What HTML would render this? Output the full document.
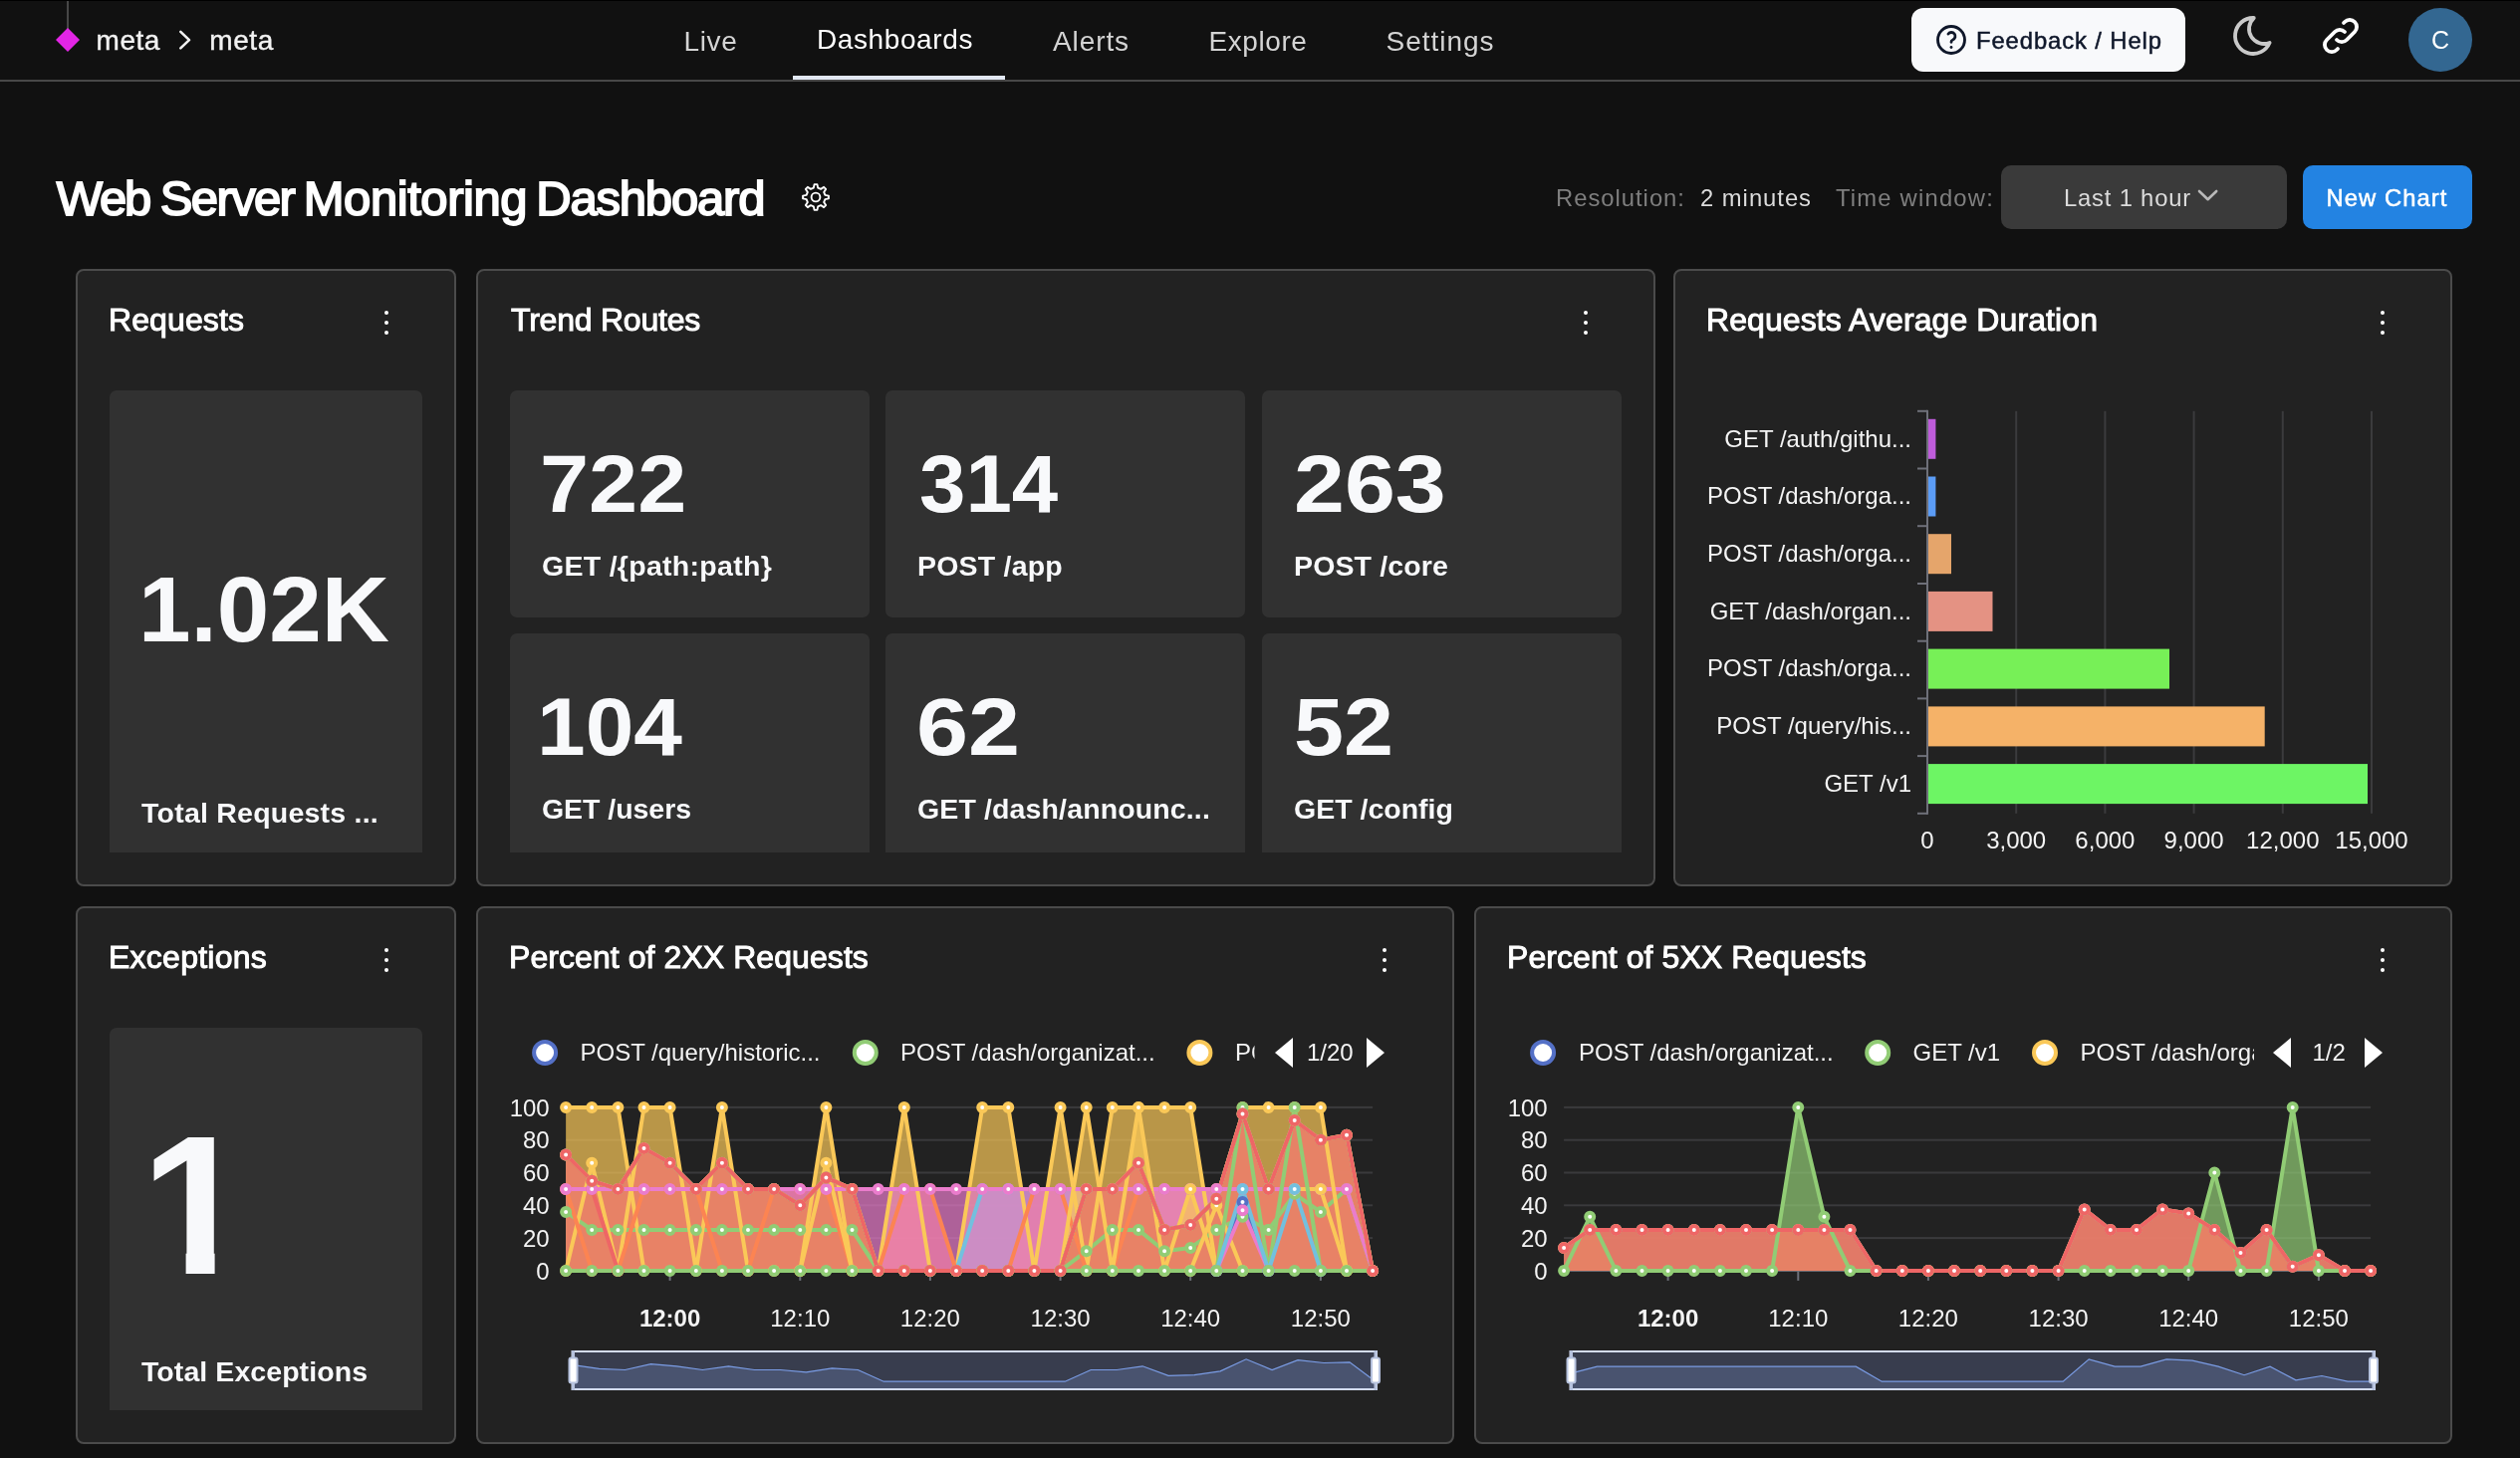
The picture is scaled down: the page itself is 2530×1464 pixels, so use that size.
<!DOCTYPE html>
<html lang="en"><head><meta charset="utf-8"><title>Web Server Monitoring Dashboard</title>
<style>
html,body{margin:0;padding:0;background:#111111;}
body{width:2530px;height:1464px;position:relative;overflow:hidden;font-family:"Liberation Sans", Arial, Helvetica, sans-serif;}
#root{position:absolute;left:0;top:0;width:2530px;height:1464px;will-change:transform;}
.t{position:absolute;white-space:nowrap;}
.b{position:absolute;}
svg text{white-space:pre;}
</style></head>
<body>
<div id="root">
<div class="b" style="left:0;top:0;width:2530px;height:1px;background:#000"></div>
<div class="b" style="left:0;top:80px;width:2530px;height:2px;background:#484848"></div>
<div class="b" style="left:67px;top:1px;width:2px;height:29px;background:#474747"></div>
<svg class="b" style="left:54px;top:26px" width="28" height="28" viewBox="0 0 28 28"><path d="M14 2 L26 14 L14 26 L2 14 Z" fill="#e325e6"/></svg>
<div class="t" style="left:96.5px;top:27.3px;font-size:28px;line-height:28px;color:#f2f2f2;letter-spacing:0.56px;-webkit-text-stroke:0.4px #f2f2f2;">meta</div>
<svg class="b" style="left:176px;top:30px" width="20" height="24" viewBox="0 0 20 24"><path d="M5.3 1.9 L14 10.15 L5.3 18.4" fill="none" stroke="#f2f2f2" stroke-width="2.6" stroke-linecap="round" stroke-linejoin="round"/></svg>
<div class="t" style="left:210.3px;top:27.3px;font-size:28px;line-height:28px;color:#f2f2f2;letter-spacing:0.56px;-webkit-text-stroke:0.4px #f2f2f2;">meta</div>
<div class="t" style="left:686.5px;top:28.3px;font-size:28px;line-height:28px;color:#d4d4d4;letter-spacing:0.66px;">Live</div>
<div class="t" style="left:820.0px;top:26.3px;font-size:28px;line-height:28px;color:#ffffff;letter-spacing:0.60px;">Dashboards</div>
<div class="t" style="left:1057.0px;top:28.3px;font-size:28px;line-height:28px;color:#d4d4d4;letter-spacing:0.90px;">Alerts</div>
<div class="t" style="left:1213.5px;top:28.3px;font-size:28px;line-height:28px;color:#d4d4d4;letter-spacing:0.58px;">Explore</div>
<div class="t" style="left:1391.5px;top:28.3px;font-size:28px;line-height:28px;color:#d4d4d4;letter-spacing:0.98px;">Settings</div>
<div class="b" style="left:796px;top:76px;width:213px;height:4px;background:#e2e8f4;border-radius:0px;"></div>
<div class="b" style="left:1919px;top:8px;width:275px;height:64px;background:#f8f9fb;border-radius:12px;"></div>
<svg class="b" style="left:1941px;top:21.5px" width="36" height="36" viewBox="0 0 24 24"><g fill="none" stroke="#0f172a" stroke-width="1.9" stroke-linecap="round" stroke-linejoin="round"><circle cx="12" cy="12" r="9"/><path d="M12 17l0 .01"/><path d="M12 13.5a1.5 1.5 0 0 1 1 -1.5a2.6 2.6 0 1 0 -3 -4"/></g></svg>
<div class="t" style="left:1984.0px;top:28.9px;font-size:23.8px;line-height:23.8px;color:#0f172a;letter-spacing:0.91px;-webkit-text-stroke:0.5px #0f172a;">Feedback / Help</div>
<svg class="b" style="left:2238px;top:12px" width="48" height="48" viewBox="0 0 24 24"><path d="M12 3c.132 0 .263 0 .393 0a7.5 7.5 0 0 0 7.92 12.446a9 9 0 1 1 -8.313 -12.454z" fill="none" stroke="#c9c9c9" stroke-width="1.9" stroke-linecap="round" stroke-linejoin="round"/></svg>
<svg class="b" style="left:2326px;top:12px" width="48" height="48" viewBox="0 0 24 24"><g fill="none" stroke="#ffffff" stroke-width="1.9" stroke-linecap="round" stroke-linejoin="round"><path d="M10 14a3.5 3.5 0 0 0 5 0l4 -4a3.5 3.5 0 0 0 -5 -5l-.5 .5"/><path d="M14 10a3.5 3.5 0 0 0 -5 0l-4 4a3.5 3.5 0 0 0 5 5l.5 -.5"/></g></svg>
<div class="b" style="left:2418px;top:8px;width:64px;height:64px;border-radius:50%;background:#336791"></div>
<div class="t" style="left:2450.0px;top:27.8px;font-size:25px;line-height:25px;color:#ffffff;transform:translateX(-50%);">C</div>
<div class="t" style="left:56px;top:175px;font-size:49px;line-height:49px;color:#fff;-webkit-text-stroke:1.9px #fff;width:730px;height:49px">
<span style="position:absolute;left:0.7px;top:0;letter-spacing:-2.12px">Web&nbsp;</span>
<span style="position:absolute;left:104.8px;top:0;letter-spacing:-1.64px">Server&nbsp;</span>
<span style="position:absolute;left:248.7px;top:0;letter-spacing:-0.43px">Monitoring&nbsp;</span>
<span style="position:absolute;left:482.2px;top:0;letter-spacing:-1.19px">Dashboard</span>
</div>
<svg class="b" style="left:805px;top:184px" width="28" height="28" viewBox="0 0 28 28"><path d="M11.83 4.65 L12.57 1.08 L15.43 1.08 L16.17 4.65 L19.08 5.85 L22.13 3.85 L24.15 5.87 L22.15 8.92 L23.35 11.83 L26.92 12.57 L26.92 15.43 L23.35 16.17 L22.15 19.08 L24.15 22.13 L22.13 24.15 L19.08 22.15 L16.17 23.35 L15.43 26.92 L12.57 26.92 L11.83 23.35 L8.92 22.15 L5.87 24.15 L3.85 22.13 L5.85 19.08 L4.65 16.17 L1.08 15.43 L1.08 12.57 L4.65 11.83 L5.85 8.92 L3.85 5.87 L5.87 3.85 L8.92 5.85 Z" fill="none" stroke="#fff" stroke-width="1.9" stroke-linejoin="round"/><circle cx="14" cy="14" r="4.4" fill="none" stroke="#fff" stroke-width="1.9"/></svg>
<div class="t" style="left:1562.0px;top:186.9px;font-size:23.8px;line-height:23.8px;color:#7f7f7f;letter-spacing:0.99px;">Resolution:</div>
<div class="t" style="left:1707.0px;top:186.9px;font-size:23.8px;line-height:23.8px;color:#dcdcdc;letter-spacing:0.98px;">2 minutes</div>
<div class="t" style="left:1843.0px;top:186.9px;font-size:23.8px;line-height:23.8px;color:#7f7f7f;letter-spacing:1.20px;">Time window:</div>
<div class="b" style="left:2009px;top:166px;width:287px;height:64px;background:#3a3a3a;border-radius:10px;"></div>
<div class="t" style="left:2072.0px;top:186.9px;font-size:23.8px;line-height:23.8px;color:#dcdcdc;letter-spacing:0.81px;">Last 1 hour</div>
<svg class="b" style="left:2204px;top:186px" width="26" height="20" viewBox="0 0 26 20"><path d="M4 6 L12.6 14.2 L21.2 6" fill="none" stroke="#b9b9b9" stroke-width="2.6" stroke-linecap="round" stroke-linejoin="round"/></svg>
<div class="b" style="left:2312px;top:166px;width:170px;height:64px;background:#2383e2;border-radius:10px;"></div>
<div class="t" style="left:2335.5px;top:186.9px;font-size:23.8px;line-height:23.8px;color:#ffffff;letter-spacing:1.06px;-webkit-text-stroke:0.5px #ffffff;">New Chart</div>
<div class="b" style="left:76px;top:270px;width:382px;height:620px;box-sizing:border-box;background:#222222;border:2px solid #4b4b4b;border-radius:8px"></div>
<div class="t" style="left:109.0px;top:304.9px;font-size:32px;line-height:32px;color:#ffffff;letter-spacing:0.10px;-webkit-text-stroke:1.0px #ffffff;">Requests</div>
<div class="b" style="left:385.6px;top:311.6px;width:4.8px;height:4.8px;border-radius:50%;background:#fff"></div>
<div class="b" style="left:385.6px;top:321.6px;width:4.8px;height:4.8px;border-radius:50%;background:#fff"></div>
<div class="b" style="left:385.6px;top:331.6px;width:4.8px;height:4.8px;border-radius:50%;background:#fff"></div>
<div class="b" style="left:110px;top:392px;width:314px;height:464px;background:#313131;border-radius:7px 7px 0 0"></div>
<div class="t" style="left:139.0px;top:564.9px;font-size:93.5px;line-height:93.5px;color:#f8f9fb;font-weight:700;transform:scaleX(1.0100);transform-origin:0 0;">1.02K</div>
<div class="t" style="left:142.0px;top:801.9px;font-size:28.5px;line-height:28.5px;color:#f8f9fb;font-weight:700;letter-spacing:0.23px;">Total Requests ...</div>
<div class="b" style="left:478px;top:270px;width:1184px;height:620px;box-sizing:border-box;background:#222222;border:2px solid #4b4b4b;border-radius:8px"></div>
<div class="t" style="left:513.0px;top:304.9px;font-size:32px;line-height:32px;color:#ffffff;letter-spacing:-0.22px;-webkit-text-stroke:1.0px #ffffff;">Trend Routes</div>
<div class="b" style="left:1589.6px;top:311.6px;width:4.8px;height:4.8px;border-radius:50%;background:#fff"></div>
<div class="b" style="left:1589.6px;top:321.6px;width:4.8px;height:4.8px;border-radius:50%;background:#fff"></div>
<div class="b" style="left:1589.6px;top:331.6px;width:4.8px;height:4.8px;border-radius:50%;background:#fff"></div>
<div class="b" style="left:512px;top:392px;width:361px;height:228px;background:#313131;border-radius:7px"></div>
<div class="t" style="left:542.0px;top:446.4px;font-size:81px;line-height:81px;color:#f8f9fb;font-weight:700;transform:scaleX(1.0899);transform-origin:0 0;">722</div>
<div class="t" style="left:544.0px;top:553.9px;font-size:28.5px;line-height:28.5px;color:#f8f9fb;font-weight:700;letter-spacing:0.29px;">GET /{path:path}</div>
<div class="b" style="left:889px;top:392px;width:361px;height:228px;background:#313131;border-radius:7px"></div>
<div class="t" style="left:922.6px;top:446.4px;font-size:81px;line-height:81px;color:#f8f9fb;font-weight:700;transform:scaleX(1.0300);transform-origin:0 0;">314</div>
<div class="t" style="left:921.0px;top:553.9px;font-size:28.5px;line-height:28.5px;color:#f8f9fb;font-weight:700;letter-spacing:0.21px;">POST /app</div>
<div class="b" style="left:1267px;top:392px;width:361px;height:228px;background:#313131;border-radius:7px"></div>
<div class="t" style="left:1298.5px;top:446.4px;font-size:81px;line-height:81px;color:#f8f9fb;font-weight:700;transform:scaleX(1.1299);transform-origin:0 0;">263</div>
<div class="t" style="left:1299.0px;top:553.9px;font-size:28.5px;line-height:28.5px;color:#f8f9fb;font-weight:700;letter-spacing:0.14px;">POST /core</div>
<div class="b" style="left:512px;top:636px;width:361px;height:220px;background:#313131;border-radius:7px 7px 0 0"></div>
<div class="t" style="left:539.3px;top:690.4px;font-size:81px;line-height:81px;color:#f8f9fb;font-weight:700;transform:scaleX(1.0803);transform-origin:0 0;">104</div>
<div class="t" style="left:544.0px;top:797.9px;font-size:28.5px;line-height:28.5px;color:#f8f9fb;font-weight:700;letter-spacing:-0.05px;">GET /users</div>
<div class="b" style="left:889px;top:636px;width:361px;height:220px;background:#313131;border-radius:7px 7px 0 0"></div>
<div class="t" style="left:920.0px;top:690.4px;font-size:81px;line-height:81px;color:#f8f9fb;font-weight:700;transform:scaleX(1.1554);transform-origin:0 0;">62</div>
<div class="t" style="left:921.0px;top:797.9px;font-size:28.5px;line-height:28.5px;color:#f8f9fb;font-weight:700;letter-spacing:0.13px;">GET /dash/announc...</div>
<div class="b" style="left:1267px;top:636px;width:361px;height:220px;background:#313131;border-radius:7px 7px 0 0"></div>
<div class="t" style="left:1298.8px;top:690.4px;font-size:81px;line-height:81px;color:#f8f9fb;font-weight:700;transform:scaleX(1.1099);transform-origin:0 0;">52</div>
<div class="t" style="left:1299.0px;top:797.9px;font-size:28.5px;line-height:28.5px;color:#f8f9fb;font-weight:700;">GET /config</div>
<div class="b" style="left:1680px;top:270px;width:782px;height:620px;box-sizing:border-box;background:#222222;border:2px solid #4b4b4b;border-radius:8px"></div>
<div class="t" style="left:1713.0px;top:304.9px;font-size:32px;line-height:32px;color:#ffffff;letter-spacing:0.09px;-webkit-text-stroke:1.0px #ffffff;">Requests Average Duration</div>
<div class="b" style="left:2389.6px;top:311.6px;width:4.8px;height:4.8px;border-radius:50%;background:#fff"></div>
<div class="b" style="left:2389.6px;top:321.6px;width:4.8px;height:4.8px;border-radius:50%;background:#fff"></div>
<div class="b" style="left:2389.6px;top:331.6px;width:4.8px;height:4.8px;border-radius:50%;background:#fff"></div>
<svg class="b" style="left:0;top:0" width="2530" height="1464" viewBox="0 0 2530 1464" font-family='"Liberation Sans", Arial, sans-serif' font-size="24"><rect x="2023.2" y="412.8" width="2" height="404.0" fill="#3b3b3d"/><rect x="2112.4" y="412.8" width="2" height="404.0" fill="#3b3b3d"/><rect x="2201.6" y="412.8" width="2" height="404.0" fill="#3b3b3d"/><rect x="2290.8" y="412.8" width="2" height="404.0" fill="#3b3b3d"/><rect x="2380.0" y="412.8" width="2" height="404.0" fill="#3b3b3d"/><rect x="1935.0" y="420.8" width="8.4" height="40" fill="#bf5cdb"/><text x="1919" y="448.6" text-anchor="end" fill="#f4f4f4">GET /auth/githu...</text><rect x="1935.0" y="478.5" width="8.4" height="40" fill="#5b9cf6"/><text x="1919" y="506.3" text-anchor="end" fill="#f4f4f4">POST /dash/orga...</text><rect x="1935.0" y="536.2" width="24" height="40" fill="#e5a56b"/><text x="1919" y="564.0" text-anchor="end" fill="#f4f4f4">POST /dash/orga...</text><rect x="1935.0" y="593.9" width="65.5" height="40" fill="#e49283"/><text x="1919" y="621.7" text-anchor="end" fill="#f4f4f4">GET /dash/organ...</text><rect x="1935.0" y="651.6" width="243" height="40" fill="#77f057"/><text x="1919" y="679.4" text-anchor="end" fill="#f4f4f4">POST /dash/orga...</text><rect x="1935.0" y="709.4" width="338.7" height="40" fill="#f5b268"/><text x="1919" y="737.2" text-anchor="end" fill="#f4f4f4">POST /query/his...</text><rect x="1935.0" y="767.1" width="442" height="40" fill="#6df564"/><text x="1919" y="794.9" text-anchor="end" fill="#f4f4f4">GET /v1</text><rect x="1934.0" y="411.8" width="2" height="406.0" fill="#6e7079"/><rect x="1925.0" y="411.8" width="10" height="2" fill="#6e7079"/><rect x="1925.0" y="469.5" width="10" height="2" fill="#6e7079"/><rect x="1925.0" y="527.2" width="10" height="2" fill="#6e7079"/><rect x="1925.0" y="585.0" width="10" height="2" fill="#6e7079"/><rect x="1925.0" y="642.7" width="10" height="2" fill="#6e7079"/><rect x="1925.0" y="700.4" width="10" height="2" fill="#6e7079"/><rect x="1925.0" y="758.1" width="10" height="2" fill="#6e7079"/><rect x="1925.0" y="815.8" width="10" height="2" fill="#6e7079"/><text x="1935.0" y="852" text-anchor="middle" fill="#f4f4f4">0</text><text x="2024.2" y="852" text-anchor="middle" fill="#f4f4f4">3,000</text><text x="2113.4" y="852" text-anchor="middle" fill="#f4f4f4">6,000</text><text x="2202.6" y="852" text-anchor="middle" fill="#f4f4f4">9,000</text><text x="2291.8" y="852" text-anchor="middle" fill="#f4f4f4">12,000</text><text x="2381.0" y="852" text-anchor="middle" fill="#f4f4f4">15,000</text></svg>
<div class="b" style="left:76px;top:910px;width:382px;height:540px;box-sizing:border-box;background:#222222;border:2px solid #4b4b4b;border-radius:8px"></div>
<div class="t" style="left:109.0px;top:944.9px;font-size:32px;line-height:32px;color:#ffffff;letter-spacing:0.25px;-webkit-text-stroke:1.0px #ffffff;">Exceptions</div>
<div class="b" style="left:385.6px;top:951.6px;width:4.8px;height:4.8px;border-radius:50%;background:#fff"></div>
<div class="b" style="left:385.6px;top:961.6px;width:4.8px;height:4.8px;border-radius:50%;background:#fff"></div>
<div class="b" style="left:385.6px;top:971.6px;width:4.8px;height:4.8px;border-radius:50%;background:#fff"></div>
<div class="b" style="left:110px;top:1032px;width:314px;height:384px;background:#313131;border-radius:7px 7px 0 0"></div>
<div class="t" style="left:141.0px;top:1111.2px;font-size:199px;line-height:199px;color:#f8f9fb;font-weight:700;width:140px;clip-path:polygon(0 0,140px 0,140px 146px,74.6px 146px,74.6px 199px,45.6px 199px,45.6px 146px,0 146px);">1</div>
<div class="t" style="left:142.0px;top:1362.9px;font-size:28.5px;line-height:28.5px;color:#f8f9fb;font-weight:700;letter-spacing:0.07px;">Total Exceptions</div>
<div class="b" style="left:478px;top:910px;width:982px;height:540px;box-sizing:border-box;background:#222222;border:2px solid #4b4b4b;border-radius:8px"></div>
<div class="t" style="left:511.0px;top:944.9px;font-size:32px;line-height:32px;color:#ffffff;letter-spacing:0.07px;-webkit-text-stroke:1.0px #ffffff;">Percent of 2XX Requests</div>
<div class="b" style="left:1387.6px;top:951.6px;width:4.8px;height:4.8px;border-radius:50%;background:#fff"></div>
<div class="b" style="left:1387.6px;top:961.6px;width:4.8px;height:4.8px;border-radius:50%;background:#fff"></div>
<div class="b" style="left:1387.6px;top:971.6px;width:4.8px;height:4.8px;border-radius:50%;background:#fff"></div>
<svg class="b" style="left:0;top:0" width="2530" height="1464" viewBox="0 0 2530 1464" font-family='"Liberation Sans", Arial, sans-serif' font-size="24"><rect x="568.1" y="1242.1" width="810.0" height="2" fill="#3a3a3c"/><rect x="568.1" y="1209.3" width="810.0" height="2" fill="#3a3a3c"/><rect x="568.1" y="1176.5" width="810.0" height="2" fill="#3a3a3c"/><rect x="568.1" y="1143.7" width="810.0" height="2" fill="#3a3a3c"/><rect x="568.1" y="1110.9" width="810.0" height="2" fill="#3a3a3c"/><rect x="568.1" y="1274.9" width="810.0" height="2" fill="#6e7079"/><rect x="671.6" y="1275.9" width="2" height="10" fill="#6e7079"/><text x="672.6" y="1332.1" text-anchor="middle" fill="#f4f4f4" font-weight="700">12:00</text><rect x="802.3" y="1275.9" width="2" height="10" fill="#6e7079"/><text x="803.3" y="1332.1" text-anchor="middle" fill="#f4f4f4">12:10</text><rect x="932.9" y="1275.9" width="2" height="10" fill="#6e7079"/><text x="933.9" y="1332.1" text-anchor="middle" fill="#f4f4f4">12:20</text><rect x="1063.6" y="1275.9" width="2" height="10" fill="#6e7079"/><text x="1064.6" y="1332.1" text-anchor="middle" fill="#f4f4f4">12:30</text><rect x="1194.2" y="1275.9" width="2" height="10" fill="#6e7079"/><text x="1195.2" y="1332.1" text-anchor="middle" fill="#f4f4f4">12:40</text><rect x="1324.9" y="1275.9" width="2" height="10" fill="#6e7079"/><text x="1325.9" y="1332.1" text-anchor="middle" fill="#f4f4f4">12:50</text><text x="551.7" y="1284.5" text-anchor="end" fill="#f4f4f4">0</text><text x="551.7" y="1251.7" text-anchor="end" fill="#f4f4f4">20</text><text x="551.7" y="1218.9" text-anchor="end" fill="#f4f4f4">40</text><text x="551.7" y="1186.1" text-anchor="end" fill="#f4f4f4">60</text><text x="551.7" y="1153.3" text-anchor="end" fill="#f4f4f4">80</text><text x="551.7" y="1120.5" text-anchor="end" fill="#f4f4f4">100</text><polygon points="568.1,1216.9 594.2,1234.9 620.4,1234.9 646.5,1234.9 672.6,1234.9 698.8,1234.9 724.9,1234.9 751.0,1234.9 777.1,1234.9 803.3,1234.9 829.4,1234.9 855.5,1234.9 881.7,1275.9 907.8,1275.9 933.9,1275.9 960.0,1275.9 986.2,1275.9 1012.3,1275.9 1038.4,1275.9 1064.6,1275.9 1090.7,1256.2 1116.8,1234.9 1143.0,1234.9 1169.1,1256.2 1195.2,1252.9 1221.3,1234.9 1247.5,1221.8 1273.6,1234.9 1299.7,1198.8 1325.9,1216.9 1352.0,1193.9 1378.1,1275.9 1378.1,1275.9 568.1,1275.9" fill="#91cc75" fill-opacity="0.7"/><polygon points="568.1,1111.9 594.2,1111.9 620.4,1111.9 646.5,1275.9 646.5,1275.9 568.1,1275.9" fill="#fac858" fill-opacity="0.7"/><polygon points="568.1,1275.9 594.2,1167.7 620.4,1275.9 646.5,1111.9 672.6,1111.9 698.8,1275.9 724.9,1111.9 751.0,1275.9 777.1,1275.9 803.3,1275.9 829.4,1111.9 855.5,1275.9 881.7,1275.9 907.8,1111.9 933.9,1275.9 960.0,1275.9 986.2,1111.9 1012.3,1111.9 1038.4,1275.9 1064.6,1111.9 1090.7,1275.9 1116.8,1111.9 1143.0,1111.9 1169.1,1111.9 1195.2,1111.9 1221.3,1275.9 1221.3,1275.9 568.1,1275.9" fill="#fac858" fill-opacity="0.7"/><polygon points="568.1,1193.9 594.2,1193.9 620.4,1275.9 620.4,1275.9 568.1,1275.9" fill="#ee6666" fill-opacity="0.7"/><polygon points="960.0,1275.9 986.2,1193.9 1012.3,1193.9 1038.4,1193.9 1064.6,1193.9 1090.7,1193.9 1116.8,1193.9 1143.0,1193.9 1169.1,1193.9 1195.2,1193.9 1221.3,1193.9 1247.5,1193.9 1273.6,1193.9 1299.7,1193.9 1325.9,1193.9 1352.0,1193.9 1378.1,1275.9 1378.1,1275.9 960.0,1275.9" fill="#73c0de" fill-opacity="0.7"/><polygon points="568.1,1193.9 594.2,1275.9 620.4,1275.9 646.5,1193.9 672.6,1193.9 698.8,1193.9 724.9,1275.9 751.0,1275.9 777.1,1193.9 803.3,1193.9 829.4,1193.9 855.5,1275.9 881.7,1275.9 907.8,1193.9 933.9,1193.9 960.0,1275.9 986.2,1275.9 1012.3,1275.9 1038.4,1193.9 1064.6,1193.9 1090.7,1275.9 1116.8,1275.9 1143.0,1193.9 1169.1,1193.9 1195.2,1193.9 1221.3,1193.9 1247.5,1193.9 1273.6,1193.9 1299.7,1193.9 1325.9,1193.9 1352.0,1193.9 1378.1,1275.9 1378.1,1275.9 568.1,1275.9" fill="#fc8452" fill-opacity="0.7"/><polygon points="568.1,1193.9 594.2,1193.9 620.4,1193.9 646.5,1193.9 672.6,1193.9 698.8,1193.9 724.9,1193.9 751.0,1193.9 777.1,1193.9 803.3,1193.9 829.4,1193.9 855.5,1193.9 881.7,1193.9 907.8,1193.9 933.9,1193.9 960.0,1193.9 986.2,1193.9 1012.3,1193.9 1038.4,1193.9 1064.6,1193.9 1090.7,1193.9 1116.8,1193.9 1143.0,1193.9 1169.1,1193.9 1195.2,1193.9 1221.3,1193.9 1247.5,1193.9 1273.6,1193.9 1299.7,1193.9 1325.9,1193.9 1352.0,1193.9 1378.1,1275.9 1378.1,1275.9 568.1,1275.9" fill="#ea7ccc" fill-opacity="0.7"/><polygon points="803.3,1275.9 829.4,1167.7 855.5,1275.9 855.5,1275.9 803.3,1275.9" fill="#fac858" fill-opacity="0.7"/><polygon points="1064.6,1275.9 1090.7,1111.9 1116.8,1275.9 1143.0,1111.9 1169.1,1275.9 1195.2,1193.9 1221.3,1275.9 1221.3,1275.9 1064.6,1275.9" fill="#fac858" fill-opacity="0.7"/><polygon points="1195.2,1275.9 1221.3,1210.3 1247.5,1275.9 1247.5,1275.9 1195.2,1275.9" fill="#fac858" fill-opacity="0.7"/><polygon points="1247.5,1111.9 1273.6,1111.9 1299.7,1111.9 1325.9,1111.9 1352.0,1275.9 1352.0,1275.9 1247.5,1275.9" fill="#fac858" fill-opacity="0.7"/><polygon points="1299.7,1193.9 1325.9,1193.9 1352.0,1275.9 1352.0,1275.9 1299.7,1275.9" fill="#fac858" fill-opacity="0.7"/><polygon points="1221.3,1275.9 1247.5,1111.9 1273.6,1275.9 1299.7,1111.9 1325.9,1275.9 1325.9,1275.9 1221.3,1275.9" fill="#91cc75" fill-opacity="0.7"/><polygon points="1221.3,1275.9 1247.5,1207.0 1273.6,1275.9 1273.6,1275.9 1221.3,1275.9" fill="#5470c6" fill-opacity="0.7"/><polygon points="1221.3,1275.9 1247.5,1215.2 1273.6,1275.9 1273.6,1275.9 1221.3,1275.9" fill="#ea7ccc" fill-opacity="0.7"/><polygon points="1221.3,1275.9 1247.5,1193.9 1273.6,1275.9 1299.7,1193.9 1325.9,1275.9 1325.9,1275.9 1221.3,1275.9" fill="#73c0de" fill-opacity="0.7"/><polygon points="568.1,1159.5 594.2,1185.7 620.4,1193.9 646.5,1152.9 672.6,1167.7 698.8,1193.9 724.9,1167.7 751.0,1193.9 777.1,1193.9 803.3,1210.3 829.4,1182.4 855.5,1193.9 881.7,1275.9 907.8,1275.9 933.9,1275.9 960.0,1275.9 986.2,1275.9 1012.3,1275.9 1038.4,1275.9 1064.6,1275.9 1090.7,1193.9 1116.8,1193.9 1143.0,1167.7 1169.1,1234.9 1195.2,1230.0 1221.3,1203.7 1247.5,1118.5 1273.6,1193.9 1299.7,1125.0 1325.9,1144.7 1352.0,1139.8 1378.1,1275.9 1378.1,1275.9 568.1,1275.9" fill="#5470c6" fill-opacity="0.7"/><polygon points="568.1,1159.5 594.2,1185.7 620.4,1193.9 646.5,1152.9 672.6,1167.7 698.8,1193.9 724.9,1167.7 751.0,1193.9 777.1,1193.9 803.3,1210.3 829.4,1182.4 855.5,1193.9 881.7,1275.9 907.8,1275.9 933.9,1275.9 960.0,1275.9 986.2,1275.9 1012.3,1275.9 1038.4,1275.9 1064.6,1275.9 1090.7,1193.9 1116.8,1193.9 1143.0,1167.7 1169.1,1234.9 1195.2,1230.0 1221.3,1203.7 1247.5,1118.5 1273.6,1193.9 1299.7,1125.0 1325.9,1144.7 1352.0,1139.8 1378.1,1275.9 1378.1,1275.9 568.1,1275.9" fill="#91cc75" fill-opacity="0.7"/><polygon points="568.1,1159.5 594.2,1185.7 620.4,1193.9 646.5,1152.9 672.6,1167.7 698.8,1193.9 724.9,1167.7 751.0,1193.9 777.1,1193.9 803.3,1210.3 829.4,1182.4 855.5,1193.9 881.7,1275.9 907.8,1275.9 933.9,1275.9 960.0,1275.9 986.2,1275.9 1012.3,1275.9 1038.4,1275.9 1064.6,1275.9 1090.7,1193.9 1116.8,1193.9 1143.0,1167.7 1169.1,1234.9 1195.2,1230.0 1221.3,1203.7 1247.5,1118.5 1273.6,1193.9 1299.7,1125.0 1325.9,1144.7 1352.0,1139.8 1378.1,1275.9 1378.1,1275.9 568.1,1275.9" fill="#fac858" fill-opacity="0.7"/><polygon points="568.1,1159.5 594.2,1185.7 620.4,1193.9 646.5,1152.9 672.6,1167.7 698.8,1193.9 724.9,1167.7 751.0,1193.9 777.1,1193.9 803.3,1210.3 829.4,1182.4 855.5,1193.9 881.7,1275.9 907.8,1275.9 933.9,1275.9 960.0,1275.9 986.2,1275.9 1012.3,1275.9 1038.4,1275.9 1064.6,1275.9 1090.7,1193.9 1116.8,1193.9 1143.0,1167.7 1169.1,1234.9 1195.2,1230.0 1221.3,1203.7 1247.5,1118.5 1273.6,1193.9 1299.7,1125.0 1325.9,1144.7 1352.0,1139.8 1378.1,1275.9 1378.1,1275.9 568.1,1275.9" fill="#ee6666" fill-opacity="0.7"/><polyline points="568.1,1216.9 594.2,1234.9 620.4,1234.9 646.5,1234.9 672.6,1234.9 698.8,1234.9 724.9,1234.9 751.0,1234.9 777.1,1234.9 803.3,1234.9 829.4,1234.9 855.5,1234.9 881.7,1275.9 907.8,1275.9 933.9,1275.9 960.0,1275.9 986.2,1275.9 1012.3,1275.9 1038.4,1275.9 1064.6,1275.9 1090.7,1256.2 1116.8,1234.9 1143.0,1234.9 1169.1,1256.2 1195.2,1252.9 1221.3,1234.9 1247.5,1221.8 1273.6,1234.9 1299.7,1198.8 1325.9,1216.9 1352.0,1193.9 1378.1,1275.9" fill="none" stroke="#91cc75" stroke-width="4" stroke-linejoin="bevel"/><polyline points="568.1,1111.9 594.2,1111.9 620.4,1111.9 646.5,1275.9" fill="none" stroke="#fac858" stroke-width="4" stroke-linejoin="bevel"/><polyline points="568.1,1275.9 594.2,1167.7 620.4,1275.9 646.5,1111.9 672.6,1111.9 698.8,1275.9 724.9,1111.9 751.0,1275.9 777.1,1275.9 803.3,1275.9 829.4,1111.9 855.5,1275.9 881.7,1275.9 907.8,1111.9 933.9,1275.9 960.0,1275.9 986.2,1111.9 1012.3,1111.9 1038.4,1275.9 1064.6,1111.9 1090.7,1275.9 1116.8,1111.9 1143.0,1111.9 1169.1,1111.9 1195.2,1111.9 1221.3,1275.9" fill="none" stroke="#fac858" stroke-width="4" stroke-linejoin="bevel"/><polyline points="568.1,1193.9 594.2,1193.9 620.4,1275.9" fill="none" stroke="#ee6666" stroke-width="4" stroke-linejoin="bevel"/><polyline points="960.0,1275.9 986.2,1193.9 1012.3,1193.9 1038.4,1193.9 1064.6,1193.9 1090.7,1193.9 1116.8,1193.9 1143.0,1193.9 1169.1,1193.9 1195.2,1193.9 1221.3,1193.9 1247.5,1193.9 1273.6,1193.9 1299.7,1193.9 1325.9,1193.9 1352.0,1193.9 1378.1,1275.9" fill="none" stroke="#73c0de" stroke-width="4" stroke-linejoin="bevel"/><polyline points="568.1,1193.9 594.2,1275.9 620.4,1275.9 646.5,1193.9 672.6,1193.9 698.8,1193.9 724.9,1275.9 751.0,1275.9 777.1,1193.9 803.3,1193.9 829.4,1193.9 855.5,1275.9 881.7,1275.9 907.8,1193.9 933.9,1193.9 960.0,1275.9 986.2,1275.9 1012.3,1275.9 1038.4,1193.9 1064.6,1193.9 1090.7,1275.9 1116.8,1275.9 1143.0,1193.9 1169.1,1193.9 1195.2,1193.9 1221.3,1193.9 1247.5,1193.9 1273.6,1193.9 1299.7,1193.9 1325.9,1193.9 1352.0,1193.9 1378.1,1275.9" fill="none" stroke="#fc8452" stroke-width="4" stroke-linejoin="bevel"/><polyline points="568.1,1193.9 594.2,1193.9 620.4,1193.9 646.5,1193.9 672.6,1193.9 698.8,1193.9 724.9,1193.9 751.0,1193.9 777.1,1193.9 803.3,1193.9 829.4,1193.9 855.5,1193.9 881.7,1193.9 907.8,1193.9 933.9,1193.9 960.0,1193.9 986.2,1193.9 1012.3,1193.9 1038.4,1193.9 1064.6,1193.9 1090.7,1193.9 1116.8,1193.9 1143.0,1193.9 1169.1,1193.9 1195.2,1193.9 1221.3,1193.9 1247.5,1193.9 1273.6,1193.9 1299.7,1193.9 1325.9,1193.9 1352.0,1193.9 1378.1,1275.9" fill="none" stroke="#ea7ccc" stroke-width="4" stroke-linejoin="bevel"/><polyline points="803.3,1275.9 829.4,1167.7 855.5,1275.9" fill="none" stroke="#fac858" stroke-width="4" stroke-linejoin="bevel"/><polyline points="1064.6,1275.9 1090.7,1111.9 1116.8,1275.9 1143.0,1111.9 1169.1,1275.9 1195.2,1193.9 1221.3,1275.9" fill="none" stroke="#fac858" stroke-width="4" stroke-linejoin="bevel"/><polyline points="1195.2,1275.9 1221.3,1210.3 1247.5,1275.9" fill="none" stroke="#fac858" stroke-width="4" stroke-linejoin="bevel"/><polyline points="1247.5,1111.9 1273.6,1111.9 1299.7,1111.9 1325.9,1111.9 1352.0,1275.9" fill="none" stroke="#fac858" stroke-width="4" stroke-linejoin="bevel"/><polyline points="1299.7,1193.9 1325.9,1193.9 1352.0,1275.9" fill="none" stroke="#fac858" stroke-width="4" stroke-linejoin="bevel"/><polyline points="1221.3,1275.9 1247.5,1111.9 1273.6,1275.9 1299.7,1111.9 1325.9,1275.9" fill="none" stroke="#91cc75" stroke-width="4" stroke-linejoin="bevel"/><polyline points="1221.3,1275.9 1247.5,1207.0 1273.6,1275.9" fill="none" stroke="#5470c6" stroke-width="4" stroke-linejoin="bevel"/><polyline points="1221.3,1275.9 1247.5,1215.2 1273.6,1275.9" fill="none" stroke="#ea7ccc" stroke-width="4" stroke-linejoin="bevel"/><polyline points="1221.3,1275.9 1247.5,1193.9 1273.6,1275.9 1299.7,1193.9 1325.9,1275.9" fill="none" stroke="#73c0de" stroke-width="4" stroke-linejoin="bevel"/><polyline points="568.1,1275.9 594.2,1275.9 620.4,1275.9 646.5,1275.9 672.6,1275.9 698.8,1275.9 724.9,1275.9 751.0,1275.9 777.1,1275.9 803.3,1275.9 829.4,1275.9 855.5,1275.9 881.7,1275.9 907.8,1275.9 933.9,1275.9 960.0,1275.9 986.2,1275.9 1012.3,1275.9 1038.4,1275.9 1064.6,1275.9 1090.7,1275.9 1116.8,1275.9 1143.0,1275.9 1169.1,1275.9 1195.2,1275.9 1221.3,1275.9 1247.5,1275.9 1273.6,1275.9 1299.7,1275.9 1325.9,1275.9 1352.0,1275.9 1378.1,1275.9" fill="none" stroke="#91cc75" stroke-width="4" stroke-linejoin="bevel"/><polyline points="568.1,1159.5 594.2,1185.7 620.4,1193.9 646.5,1152.9 672.6,1167.7 698.8,1193.9 724.9,1167.7 751.0,1193.9 777.1,1193.9 803.3,1210.3 829.4,1182.4 855.5,1193.9 881.7,1275.9 907.8,1275.9 933.9,1275.9 960.0,1275.9 986.2,1275.9 1012.3,1275.9 1038.4,1275.9 1064.6,1275.9 1090.7,1193.9 1116.8,1193.9 1143.0,1167.7 1169.1,1234.9 1195.2,1230.0 1221.3,1203.7 1247.5,1118.5 1273.6,1193.9 1299.7,1125.0 1325.9,1144.7 1352.0,1139.8 1378.1,1275.9" fill="none" stroke="#5470c6" stroke-width="4" stroke-linejoin="bevel"/><polyline points="568.1,1159.5 594.2,1185.7 620.4,1193.9 646.5,1152.9 672.6,1167.7 698.8,1193.9 724.9,1167.7 751.0,1193.9 777.1,1193.9 803.3,1210.3 829.4,1182.4 855.5,1193.9 881.7,1275.9 907.8,1275.9 933.9,1275.9 960.0,1275.9 986.2,1275.9 1012.3,1275.9 1038.4,1275.9 1064.6,1275.9 1090.7,1193.9 1116.8,1193.9 1143.0,1167.7 1169.1,1234.9 1195.2,1230.0 1221.3,1203.7 1247.5,1118.5 1273.6,1193.9 1299.7,1125.0 1325.9,1144.7 1352.0,1139.8 1378.1,1275.9" fill="none" stroke="#91cc75" stroke-width="4" stroke-linejoin="bevel"/><polyline points="568.1,1159.5 594.2,1185.7 620.4,1193.9 646.5,1152.9 672.6,1167.7 698.8,1193.9 724.9,1167.7 751.0,1193.9 777.1,1193.9 803.3,1210.3 829.4,1182.4 855.5,1193.9 881.7,1275.9 907.8,1275.9 933.9,1275.9 960.0,1275.9 986.2,1275.9 1012.3,1275.9 1038.4,1275.9 1064.6,1275.9 1090.7,1193.9 1116.8,1193.9 1143.0,1167.7 1169.1,1234.9 1195.2,1230.0 1221.3,1203.7 1247.5,1118.5 1273.6,1193.9 1299.7,1125.0 1325.9,1144.7 1352.0,1139.8 1378.1,1275.9" fill="none" stroke="#fac858" stroke-width="4" stroke-linejoin="bevel"/><polyline points="568.1,1159.5 594.2,1185.7 620.4,1193.9 646.5,1152.9 672.6,1167.7 698.8,1193.9 724.9,1167.7 751.0,1193.9 777.1,1193.9 803.3,1210.3 829.4,1182.4 855.5,1193.9 881.7,1275.9 907.8,1275.9 933.9,1275.9 960.0,1275.9 986.2,1275.9 1012.3,1275.9 1038.4,1275.9 1064.6,1275.9 1090.7,1193.9 1116.8,1193.9 1143.0,1167.7 1169.1,1234.9 1195.2,1230.0 1221.3,1203.7 1247.5,1118.5 1273.6,1193.9 1299.7,1125.0 1325.9,1144.7 1352.0,1139.8 1378.1,1275.9" fill="none" stroke="#ee6666" stroke-width="4" stroke-linejoin="bevel"/><circle cx="568.1" cy="1216.9" r="4" fill="#fff" stroke="#91cc75" stroke-width="4"/><circle cx="594.2" cy="1234.9" r="4" fill="#fff" stroke="#91cc75" stroke-width="4"/><circle cx="620.4" cy="1234.9" r="4" fill="#fff" stroke="#91cc75" stroke-width="4"/><circle cx="646.5" cy="1234.9" r="4" fill="#fff" stroke="#91cc75" stroke-width="4"/><circle cx="672.6" cy="1234.9" r="4" fill="#fff" stroke="#91cc75" stroke-width="4"/><circle cx="698.8" cy="1234.9" r="4" fill="#fff" stroke="#91cc75" stroke-width="4"/><circle cx="724.9" cy="1234.9" r="4" fill="#fff" stroke="#91cc75" stroke-width="4"/><circle cx="751.0" cy="1234.9" r="4" fill="#fff" stroke="#91cc75" stroke-width="4"/><circle cx="777.1" cy="1234.9" r="4" fill="#fff" stroke="#91cc75" stroke-width="4"/><circle cx="803.3" cy="1234.9" r="4" fill="#fff" stroke="#91cc75" stroke-width="4"/><circle cx="829.4" cy="1234.9" r="4" fill="#fff" stroke="#91cc75" stroke-width="4"/><circle cx="855.5" cy="1234.9" r="4" fill="#fff" stroke="#91cc75" stroke-width="4"/><circle cx="881.7" cy="1275.9" r="4" fill="#fff" stroke="#91cc75" stroke-width="4"/><circle cx="907.8" cy="1275.9" r="4" fill="#fff" stroke="#91cc75" stroke-width="4"/><circle cx="933.9" cy="1275.9" r="4" fill="#fff" stroke="#91cc75" stroke-width="4"/><circle cx="960.0" cy="1275.9" r="4" fill="#fff" stroke="#91cc75" stroke-width="4"/><circle cx="986.2" cy="1275.9" r="4" fill="#fff" stroke="#91cc75" stroke-width="4"/><circle cx="1012.3" cy="1275.9" r="4" fill="#fff" stroke="#91cc75" stroke-width="4"/><circle cx="1038.4" cy="1275.9" r="4" fill="#fff" stroke="#91cc75" stroke-width="4"/><circle cx="1064.6" cy="1275.9" r="4" fill="#fff" stroke="#91cc75" stroke-width="4"/><circle cx="1090.7" cy="1256.2" r="4" fill="#fff" stroke="#91cc75" stroke-width="4"/><circle cx="1116.8" cy="1234.9" r="4" fill="#fff" stroke="#91cc75" stroke-width="4"/><circle cx="1143.0" cy="1234.9" r="4" fill="#fff" stroke="#91cc75" stroke-width="4"/><circle cx="1169.1" cy="1256.2" r="4" fill="#fff" stroke="#91cc75" stroke-width="4"/><circle cx="1195.2" cy="1252.9" r="4" fill="#fff" stroke="#91cc75" stroke-width="4"/><circle cx="1221.3" cy="1234.9" r="4" fill="#fff" stroke="#91cc75" stroke-width="4"/><circle cx="1247.5" cy="1221.8" r="4" fill="#fff" stroke="#91cc75" stroke-width="4"/><circle cx="1273.6" cy="1234.9" r="4" fill="#fff" stroke="#91cc75" stroke-width="4"/><circle cx="1299.7" cy="1198.8" r="4" fill="#fff" stroke="#91cc75" stroke-width="4"/><circle cx="1325.9" cy="1216.9" r="4" fill="#fff" stroke="#91cc75" stroke-width="4"/><circle cx="1352.0" cy="1193.9" r="4" fill="#fff" stroke="#91cc75" stroke-width="4"/><circle cx="1378.1" cy="1275.9" r="4" fill="#fff" stroke="#91cc75" stroke-width="4"/><circle cx="568.1" cy="1111.9" r="4" fill="#fff" stroke="#fac858" stroke-width="4"/><circle cx="594.2" cy="1111.9" r="4" fill="#fff" stroke="#fac858" stroke-width="4"/><circle cx="620.4" cy="1111.9" r="4" fill="#fff" stroke="#fac858" stroke-width="4"/><circle cx="646.5" cy="1275.9" r="4" fill="#fff" stroke="#fac858" stroke-width="4"/><circle cx="568.1" cy="1275.9" r="4" fill="#fff" stroke="#fac858" stroke-width="4"/><circle cx="594.2" cy="1167.7" r="4" fill="#fff" stroke="#fac858" stroke-width="4"/><circle cx="620.4" cy="1275.9" r="4" fill="#fff" stroke="#fac858" stroke-width="4"/><circle cx="646.5" cy="1111.9" r="4" fill="#fff" stroke="#fac858" stroke-width="4"/><circle cx="672.6" cy="1111.9" r="4" fill="#fff" stroke="#fac858" stroke-width="4"/><circle cx="698.8" cy="1275.9" r="4" fill="#fff" stroke="#fac858" stroke-width="4"/><circle cx="724.9" cy="1111.9" r="4" fill="#fff" stroke="#fac858" stroke-width="4"/><circle cx="751.0" cy="1275.9" r="4" fill="#fff" stroke="#fac858" stroke-width="4"/><circle cx="777.1" cy="1275.9" r="4" fill="#fff" stroke="#fac858" stroke-width="4"/><circle cx="803.3" cy="1275.9" r="4" fill="#fff" stroke="#fac858" stroke-width="4"/><circle cx="829.4" cy="1111.9" r="4" fill="#fff" stroke="#fac858" stroke-width="4"/><circle cx="855.5" cy="1275.9" r="4" fill="#fff" stroke="#fac858" stroke-width="4"/><circle cx="881.7" cy="1275.9" r="4" fill="#fff" stroke="#fac858" stroke-width="4"/><circle cx="907.8" cy="1111.9" r="4" fill="#fff" stroke="#fac858" stroke-width="4"/><circle cx="933.9" cy="1275.9" r="4" fill="#fff" stroke="#fac858" stroke-width="4"/><circle cx="960.0" cy="1275.9" r="4" fill="#fff" stroke="#fac858" stroke-width="4"/><circle cx="986.2" cy="1111.9" r="4" fill="#fff" stroke="#fac858" stroke-width="4"/><circle cx="1012.3" cy="1111.9" r="4" fill="#fff" stroke="#fac858" stroke-width="4"/><circle cx="1038.4" cy="1275.9" r="4" fill="#fff" stroke="#fac858" stroke-width="4"/><circle cx="1064.6" cy="1111.9" r="4" fill="#fff" stroke="#fac858" stroke-width="4"/><circle cx="1090.7" cy="1275.9" r="4" fill="#fff" stroke="#fac858" stroke-width="4"/><circle cx="1116.8" cy="1111.9" r="4" fill="#fff" stroke="#fac858" stroke-width="4"/><circle cx="1143.0" cy="1111.9" r="4" fill="#fff" stroke="#fac858" stroke-width="4"/><circle cx="1169.1" cy="1111.9" r="4" fill="#fff" stroke="#fac858" stroke-width="4"/><circle cx="1195.2" cy="1111.9" r="4" fill="#fff" stroke="#fac858" stroke-width="4"/><circle cx="1221.3" cy="1275.9" r="4" fill="#fff" stroke="#fac858" stroke-width="4"/><circle cx="568.1" cy="1193.9" r="4" fill="#fff" stroke="#ee6666" stroke-width="4"/><circle cx="594.2" cy="1193.9" r="4" fill="#fff" stroke="#ee6666" stroke-width="4"/><circle cx="620.4" cy="1275.9" r="4" fill="#fff" stroke="#ee6666" stroke-width="4"/><circle cx="960.0" cy="1275.9" r="4" fill="#fff" stroke="#73c0de" stroke-width="4"/><circle cx="986.2" cy="1193.9" r="4" fill="#fff" stroke="#73c0de" stroke-width="4"/><circle cx="1012.3" cy="1193.9" r="4" fill="#fff" stroke="#73c0de" stroke-width="4"/><circle cx="1038.4" cy="1193.9" r="4" fill="#fff" stroke="#73c0de" stroke-width="4"/><circle cx="1064.6" cy="1193.9" r="4" fill="#fff" stroke="#73c0de" stroke-width="4"/><circle cx="1090.7" cy="1193.9" r="4" fill="#fff" stroke="#73c0de" stroke-width="4"/><circle cx="1116.8" cy="1193.9" r="4" fill="#fff" stroke="#73c0de" stroke-width="4"/><circle cx="1143.0" cy="1193.9" r="4" fill="#fff" stroke="#73c0de" stroke-width="4"/><circle cx="1169.1" cy="1193.9" r="4" fill="#fff" stroke="#73c0de" stroke-width="4"/><circle cx="1195.2" cy="1193.9" r="4" fill="#fff" stroke="#73c0de" stroke-width="4"/><circle cx="1221.3" cy="1193.9" r="4" fill="#fff" stroke="#73c0de" stroke-width="4"/><circle cx="1247.5" cy="1193.9" r="4" fill="#fff" stroke="#73c0de" stroke-width="4"/><circle cx="1273.6" cy="1193.9" r="4" fill="#fff" stroke="#73c0de" stroke-width="4"/><circle cx="1299.7" cy="1193.9" r="4" fill="#fff" stroke="#73c0de" stroke-width="4"/><circle cx="1325.9" cy="1193.9" r="4" fill="#fff" stroke="#73c0de" stroke-width="4"/><circle cx="1352.0" cy="1193.9" r="4" fill="#fff" stroke="#73c0de" stroke-width="4"/><circle cx="1378.1" cy="1275.9" r="4" fill="#fff" stroke="#73c0de" stroke-width="4"/><circle cx="568.1" cy="1193.9" r="4" fill="#fff" stroke="#fc8452" stroke-width="4"/><circle cx="594.2" cy="1275.9" r="4" fill="#fff" stroke="#fc8452" stroke-width="4"/><circle cx="620.4" cy="1275.9" r="4" fill="#fff" stroke="#fc8452" stroke-width="4"/><circle cx="646.5" cy="1193.9" r="4" fill="#fff" stroke="#fc8452" stroke-width="4"/><circle cx="672.6" cy="1193.9" r="4" fill="#fff" stroke="#fc8452" stroke-width="4"/><circle cx="698.8" cy="1193.9" r="4" fill="#fff" stroke="#fc8452" stroke-width="4"/><circle cx="724.9" cy="1275.9" r="4" fill="#fff" stroke="#fc8452" stroke-width="4"/><circle cx="751.0" cy="1275.9" r="4" fill="#fff" stroke="#fc8452" stroke-width="4"/><circle cx="777.1" cy="1193.9" r="4" fill="#fff" stroke="#fc8452" stroke-width="4"/><circle cx="803.3" cy="1193.9" r="4" fill="#fff" stroke="#fc8452" stroke-width="4"/><circle cx="829.4" cy="1193.9" r="4" fill="#fff" stroke="#fc8452" stroke-width="4"/><circle cx="855.5" cy="1275.9" r="4" fill="#fff" stroke="#fc8452" stroke-width="4"/><circle cx="881.7" cy="1275.9" r="4" fill="#fff" stroke="#fc8452" stroke-width="4"/><circle cx="907.8" cy="1193.9" r="4" fill="#fff" stroke="#fc8452" stroke-width="4"/><circle cx="933.9" cy="1193.9" r="4" fill="#fff" stroke="#fc8452" stroke-width="4"/><circle cx="960.0" cy="1275.9" r="4" fill="#fff" stroke="#fc8452" stroke-width="4"/><circle cx="986.2" cy="1275.9" r="4" fill="#fff" stroke="#fc8452" stroke-width="4"/><circle cx="1012.3" cy="1275.9" r="4" fill="#fff" stroke="#fc8452" stroke-width="4"/><circle cx="1038.4" cy="1193.9" r="4" fill="#fff" stroke="#fc8452" stroke-width="4"/><circle cx="1064.6" cy="1193.9" r="4" fill="#fff" stroke="#fc8452" stroke-width="4"/><circle cx="1090.7" cy="1275.9" r="4" fill="#fff" stroke="#fc8452" stroke-width="4"/><circle cx="1116.8" cy="1275.9" r="4" fill="#fff" stroke="#fc8452" stroke-width="4"/><circle cx="1143.0" cy="1193.9" r="4" fill="#fff" stroke="#fc8452" stroke-width="4"/><circle cx="1169.1" cy="1193.9" r="4" fill="#fff" stroke="#fc8452" stroke-width="4"/><circle cx="1195.2" cy="1193.9" r="4" fill="#fff" stroke="#fc8452" stroke-width="4"/><circle cx="1221.3" cy="1193.9" r="4" fill="#fff" stroke="#fc8452" stroke-width="4"/><circle cx="1247.5" cy="1193.9" r="4" fill="#fff" stroke="#fc8452" stroke-width="4"/><circle cx="1273.6" cy="1193.9" r="4" fill="#fff" stroke="#fc8452" stroke-width="4"/><circle cx="1299.7" cy="1193.9" r="4" fill="#fff" stroke="#fc8452" stroke-width="4"/><circle cx="1325.9" cy="1193.9" r="4" fill="#fff" stroke="#fc8452" stroke-width="4"/><circle cx="1352.0" cy="1193.9" r="4" fill="#fff" stroke="#fc8452" stroke-width="4"/><circle cx="1378.1" cy="1275.9" r="4" fill="#fff" stroke="#fc8452" stroke-width="4"/><circle cx="568.1" cy="1193.9" r="4" fill="#fff" stroke="#ea7ccc" stroke-width="4"/><circle cx="594.2" cy="1193.9" r="4" fill="#fff" stroke="#ea7ccc" stroke-width="4"/><circle cx="620.4" cy="1193.9" r="4" fill="#fff" stroke="#ea7ccc" stroke-width="4"/><circle cx="646.5" cy="1193.9" r="4" fill="#fff" stroke="#ea7ccc" stroke-width="4"/><circle cx="672.6" cy="1193.9" r="4" fill="#fff" stroke="#ea7ccc" stroke-width="4"/><circle cx="698.8" cy="1193.9" r="4" fill="#fff" stroke="#ea7ccc" stroke-width="4"/><circle cx="724.9" cy="1193.9" r="4" fill="#fff" stroke="#ea7ccc" stroke-width="4"/><circle cx="751.0" cy="1193.9" r="4" fill="#fff" stroke="#ea7ccc" stroke-width="4"/><circle cx="777.1" cy="1193.9" r="4" fill="#fff" stroke="#ea7ccc" stroke-width="4"/><circle cx="803.3" cy="1193.9" r="4" fill="#fff" stroke="#ea7ccc" stroke-width="4"/><circle cx="829.4" cy="1193.9" r="4" fill="#fff" stroke="#ea7ccc" stroke-width="4"/><circle cx="855.5" cy="1193.9" r="4" fill="#fff" stroke="#ea7ccc" stroke-width="4"/><circle cx="881.7" cy="1193.9" r="4" fill="#fff" stroke="#ea7ccc" stroke-width="4"/><circle cx="907.8" cy="1193.9" r="4" fill="#fff" stroke="#ea7ccc" stroke-width="4"/><circle cx="933.9" cy="1193.9" r="4" fill="#fff" stroke="#ea7ccc" stroke-width="4"/><circle cx="960.0" cy="1193.9" r="4" fill="#fff" stroke="#ea7ccc" stroke-width="4"/><circle cx="986.2" cy="1193.9" r="4" fill="#fff" stroke="#ea7ccc" stroke-width="4"/><circle cx="1012.3" cy="1193.9" r="4" fill="#fff" stroke="#ea7ccc" stroke-width="4"/><circle cx="1038.4" cy="1193.9" r="4" fill="#fff" stroke="#ea7ccc" stroke-width="4"/><circle cx="1064.6" cy="1193.9" r="4" fill="#fff" stroke="#ea7ccc" stroke-width="4"/><circle cx="1090.7" cy="1193.9" r="4" fill="#fff" stroke="#ea7ccc" stroke-width="4"/><circle cx="1116.8" cy="1193.9" r="4" fill="#fff" stroke="#ea7ccc" stroke-width="4"/><circle cx="1143.0" cy="1193.9" r="4" fill="#fff" stroke="#ea7ccc" stroke-width="4"/><circle cx="1169.1" cy="1193.9" r="4" fill="#fff" stroke="#ea7ccc" stroke-width="4"/><circle cx="1195.2" cy="1193.9" r="4" fill="#fff" stroke="#ea7ccc" stroke-width="4"/><circle cx="1221.3" cy="1193.9" r="4" fill="#fff" stroke="#ea7ccc" stroke-width="4"/><circle cx="1247.5" cy="1193.9" r="4" fill="#fff" stroke="#ea7ccc" stroke-width="4"/><circle cx="1273.6" cy="1193.9" r="4" fill="#fff" stroke="#ea7ccc" stroke-width="4"/><circle cx="1299.7" cy="1193.9" r="4" fill="#fff" stroke="#ea7ccc" stroke-width="4"/><circle cx="1325.9" cy="1193.9" r="4" fill="#fff" stroke="#ea7ccc" stroke-width="4"/><circle cx="1352.0" cy="1193.9" r="4" fill="#fff" stroke="#ea7ccc" stroke-width="4"/><circle cx="1378.1" cy="1275.9" r="4" fill="#fff" stroke="#ea7ccc" stroke-width="4"/><circle cx="803.3" cy="1275.9" r="4" fill="#fff" stroke="#fac858" stroke-width="4"/><circle cx="829.4" cy="1167.7" r="4" fill="#fff" stroke="#fac858" stroke-width="4"/><circle cx="855.5" cy="1275.9" r="4" fill="#fff" stroke="#fac858" stroke-width="4"/><circle cx="1064.6" cy="1275.9" r="4" fill="#fff" stroke="#fac858" stroke-width="4"/><circle cx="1090.7" cy="1111.9" r="4" fill="#fff" stroke="#fac858" stroke-width="4"/><circle cx="1116.8" cy="1275.9" r="4" fill="#fff" stroke="#fac858" stroke-width="4"/><circle cx="1143.0" cy="1111.9" r="4" fill="#fff" stroke="#fac858" stroke-width="4"/><circle cx="1169.1" cy="1275.9" r="4" fill="#fff" stroke="#fac858" stroke-width="4"/><circle cx="1195.2" cy="1193.9" r="4" fill="#fff" stroke="#fac858" stroke-width="4"/><circle cx="1221.3" cy="1275.9" r="4" fill="#fff" stroke="#fac858" stroke-width="4"/><circle cx="1195.2" cy="1275.9" r="4" fill="#fff" stroke="#fac858" stroke-width="4"/><circle cx="1221.3" cy="1210.3" r="4" fill="#fff" stroke="#fac858" stroke-width="4"/><circle cx="1247.5" cy="1275.9" r="4" fill="#fff" stroke="#fac858" stroke-width="4"/><circle cx="1247.5" cy="1111.9" r="4" fill="#fff" stroke="#fac858" stroke-width="4"/><circle cx="1273.6" cy="1111.9" r="4" fill="#fff" stroke="#fac858" stroke-width="4"/><circle cx="1299.7" cy="1111.9" r="4" fill="#fff" stroke="#fac858" stroke-width="4"/><circle cx="1325.9" cy="1111.9" r="4" fill="#fff" stroke="#fac858" stroke-width="4"/><circle cx="1352.0" cy="1275.9" r="4" fill="#fff" stroke="#fac858" stroke-width="4"/><circle cx="1299.7" cy="1193.9" r="4" fill="#fff" stroke="#fac858" stroke-width="4"/><circle cx="1325.9" cy="1193.9" r="4" fill="#fff" stroke="#fac858" stroke-width="4"/><circle cx="1352.0" cy="1275.9" r="4" fill="#fff" stroke="#fac858" stroke-width="4"/><circle cx="1221.3" cy="1275.9" r="4" fill="#fff" stroke="#91cc75" stroke-width="4"/><circle cx="1247.5" cy="1111.9" r="4" fill="#fff" stroke="#91cc75" stroke-width="4"/><circle cx="1273.6" cy="1275.9" r="4" fill="#fff" stroke="#91cc75" stroke-width="4"/><circle cx="1299.7" cy="1111.9" r="4" fill="#fff" stroke="#91cc75" stroke-width="4"/><circle cx="1325.9" cy="1275.9" r="4" fill="#fff" stroke="#91cc75" stroke-width="4"/><circle cx="1221.3" cy="1275.9" r="4" fill="#fff" stroke="#5470c6" stroke-width="4"/><circle cx="1247.5" cy="1207.0" r="4" fill="#fff" stroke="#5470c6" stroke-width="4"/><circle cx="1273.6" cy="1275.9" r="4" fill="#fff" stroke="#5470c6" stroke-width="4"/><circle cx="1221.3" cy="1275.9" r="4" fill="#fff" stroke="#ea7ccc" stroke-width="4"/><circle cx="1247.5" cy="1215.2" r="4" fill="#fff" stroke="#ea7ccc" stroke-width="4"/><circle cx="1273.6" cy="1275.9" r="4" fill="#fff" stroke="#ea7ccc" stroke-width="4"/><circle cx="1221.3" cy="1275.9" r="4" fill="#fff" stroke="#73c0de" stroke-width="4"/><circle cx="1247.5" cy="1193.9" r="4" fill="#fff" stroke="#73c0de" stroke-width="4"/><circle cx="1273.6" cy="1275.9" r="4" fill="#fff" stroke="#73c0de" stroke-width="4"/><circle cx="1299.7" cy="1193.9" r="4" fill="#fff" stroke="#73c0de" stroke-width="4"/><circle cx="1325.9" cy="1275.9" r="4" fill="#fff" stroke="#73c0de" stroke-width="4"/><circle cx="568.1" cy="1275.9" r="4" fill="#fff" stroke="#91cc75" stroke-width="4"/><circle cx="594.2" cy="1275.9" r="4" fill="#fff" stroke="#91cc75" stroke-width="4"/><circle cx="620.4" cy="1275.9" r="4" fill="#fff" stroke="#91cc75" stroke-width="4"/><circle cx="646.5" cy="1275.9" r="4" fill="#fff" stroke="#91cc75" stroke-width="4"/><circle cx="672.6" cy="1275.9" r="4" fill="#fff" stroke="#91cc75" stroke-width="4"/><circle cx="698.8" cy="1275.9" r="4" fill="#fff" stroke="#91cc75" stroke-width="4"/><circle cx="724.9" cy="1275.9" r="4" fill="#fff" stroke="#91cc75" stroke-width="4"/><circle cx="751.0" cy="1275.9" r="4" fill="#fff" stroke="#91cc75" stroke-width="4"/><circle cx="777.1" cy="1275.9" r="4" fill="#fff" stroke="#91cc75" stroke-width="4"/><circle cx="803.3" cy="1275.9" r="4" fill="#fff" stroke="#91cc75" stroke-width="4"/><circle cx="829.4" cy="1275.9" r="4" fill="#fff" stroke="#91cc75" stroke-width="4"/><circle cx="855.5" cy="1275.9" r="4" fill="#fff" stroke="#91cc75" stroke-width="4"/><circle cx="881.7" cy="1275.9" r="4" fill="#fff" stroke="#91cc75" stroke-width="4"/><circle cx="907.8" cy="1275.9" r="4" fill="#fff" stroke="#91cc75" stroke-width="4"/><circle cx="933.9" cy="1275.9" r="4" fill="#fff" stroke="#91cc75" stroke-width="4"/><circle cx="960.0" cy="1275.9" r="4" fill="#fff" stroke="#91cc75" stroke-width="4"/><circle cx="986.2" cy="1275.9" r="4" fill="#fff" stroke="#91cc75" stroke-width="4"/><circle cx="1012.3" cy="1275.9" r="4" fill="#fff" stroke="#91cc75" stroke-width="4"/><circle cx="1038.4" cy="1275.9" r="4" fill="#fff" stroke="#91cc75" stroke-width="4"/><circle cx="1064.6" cy="1275.9" r="4" fill="#fff" stroke="#91cc75" stroke-width="4"/><circle cx="1090.7" cy="1275.9" r="4" fill="#fff" stroke="#91cc75" stroke-width="4"/><circle cx="1116.8" cy="1275.9" r="4" fill="#fff" stroke="#91cc75" stroke-width="4"/><circle cx="1143.0" cy="1275.9" r="4" fill="#fff" stroke="#91cc75" stroke-width="4"/><circle cx="1169.1" cy="1275.9" r="4" fill="#fff" stroke="#91cc75" stroke-width="4"/><circle cx="1195.2" cy="1275.9" r="4" fill="#fff" stroke="#91cc75" stroke-width="4"/><circle cx="1221.3" cy="1275.9" r="4" fill="#fff" stroke="#91cc75" stroke-width="4"/><circle cx="1247.5" cy="1275.9" r="4" fill="#fff" stroke="#91cc75" stroke-width="4"/><circle cx="1273.6" cy="1275.9" r="4" fill="#fff" stroke="#91cc75" stroke-width="4"/><circle cx="1299.7" cy="1275.9" r="4" fill="#fff" stroke="#91cc75" stroke-width="4"/><circle cx="1325.9" cy="1275.9" r="4" fill="#fff" stroke="#91cc75" stroke-width="4"/><circle cx="1352.0" cy="1275.9" r="4" fill="#fff" stroke="#91cc75" stroke-width="4"/><circle cx="1378.1" cy="1275.9" r="4" fill="#fff" stroke="#91cc75" stroke-width="4"/><circle cx="568.1" cy="1159.5" r="4" fill="#fff" stroke="#5470c6" stroke-width="4"/><circle cx="594.2" cy="1185.7" r="4" fill="#fff" stroke="#5470c6" stroke-width="4"/><circle cx="620.4" cy="1193.9" r="4" fill="#fff" stroke="#5470c6" stroke-width="4"/><circle cx="646.5" cy="1152.9" r="4" fill="#fff" stroke="#5470c6" stroke-width="4"/><circle cx="672.6" cy="1167.7" r="4" fill="#fff" stroke="#5470c6" stroke-width="4"/><circle cx="698.8" cy="1193.9" r="4" fill="#fff" stroke="#5470c6" stroke-width="4"/><circle cx="724.9" cy="1167.7" r="4" fill="#fff" stroke="#5470c6" stroke-width="4"/><circle cx="751.0" cy="1193.9" r="4" fill="#fff" stroke="#5470c6" stroke-width="4"/><circle cx="777.1" cy="1193.9" r="4" fill="#fff" stroke="#5470c6" stroke-width="4"/><circle cx="803.3" cy="1210.3" r="4" fill="#fff" stroke="#5470c6" stroke-width="4"/><circle cx="829.4" cy="1182.4" r="4" fill="#fff" stroke="#5470c6" stroke-width="4"/><circle cx="855.5" cy="1193.9" r="4" fill="#fff" stroke="#5470c6" stroke-width="4"/><circle cx="881.7" cy="1275.9" r="4" fill="#fff" stroke="#5470c6" stroke-width="4"/><circle cx="907.8" cy="1275.9" r="4" fill="#fff" stroke="#5470c6" stroke-width="4"/><circle cx="933.9" cy="1275.9" r="4" fill="#fff" stroke="#5470c6" stroke-width="4"/><circle cx="960.0" cy="1275.9" r="4" fill="#fff" stroke="#5470c6" stroke-width="4"/><circle cx="986.2" cy="1275.9" r="4" fill="#fff" stroke="#5470c6" stroke-width="4"/><circle cx="1012.3" cy="1275.9" r="4" fill="#fff" stroke="#5470c6" stroke-width="4"/><circle cx="1038.4" cy="1275.9" r="4" fill="#fff" stroke="#5470c6" stroke-width="4"/><circle cx="1064.6" cy="1275.9" r="4" fill="#fff" stroke="#5470c6" stroke-width="4"/><circle cx="1090.7" cy="1193.9" r="4" fill="#fff" stroke="#5470c6" stroke-width="4"/><circle cx="1116.8" cy="1193.9" r="4" fill="#fff" stroke="#5470c6" stroke-width="4"/><circle cx="1143.0" cy="1167.7" r="4" fill="#fff" stroke="#5470c6" stroke-width="4"/><circle cx="1169.1" cy="1234.9" r="4" fill="#fff" stroke="#5470c6" stroke-width="4"/><circle cx="1195.2" cy="1230.0" r="4" fill="#fff" stroke="#5470c6" stroke-width="4"/><circle cx="1221.3" cy="1203.7" r="4" fill="#fff" stroke="#5470c6" stroke-width="4"/><circle cx="1247.5" cy="1118.5" r="4" fill="#fff" stroke="#5470c6" stroke-width="4"/><circle cx="1273.6" cy="1193.9" r="4" fill="#fff" stroke="#5470c6" stroke-width="4"/><circle cx="1299.7" cy="1125.0" r="4" fill="#fff" stroke="#5470c6" stroke-width="4"/><circle cx="1325.9" cy="1144.7" r="4" fill="#fff" stroke="#5470c6" stroke-width="4"/><circle cx="1352.0" cy="1139.8" r="4" fill="#fff" stroke="#5470c6" stroke-width="4"/><circle cx="1378.1" cy="1275.9" r="4" fill="#fff" stroke="#5470c6" stroke-width="4"/><circle cx="568.1" cy="1159.5" r="4" fill="#fff" stroke="#91cc75" stroke-width="4"/><circle cx="594.2" cy="1185.7" r="4" fill="#fff" stroke="#91cc75" stroke-width="4"/><circle cx="620.4" cy="1193.9" r="4" fill="#fff" stroke="#91cc75" stroke-width="4"/><circle cx="646.5" cy="1152.9" r="4" fill="#fff" stroke="#91cc75" stroke-width="4"/><circle cx="672.6" cy="1167.7" r="4" fill="#fff" stroke="#91cc75" stroke-width="4"/><circle cx="698.8" cy="1193.9" r="4" fill="#fff" stroke="#91cc75" stroke-width="4"/><circle cx="724.9" cy="1167.7" r="4" fill="#fff" stroke="#91cc75" stroke-width="4"/><circle cx="751.0" cy="1193.9" r="4" fill="#fff" stroke="#91cc75" stroke-width="4"/><circle cx="777.1" cy="1193.9" r="4" fill="#fff" stroke="#91cc75" stroke-width="4"/><circle cx="803.3" cy="1210.3" r="4" fill="#fff" stroke="#91cc75" stroke-width="4"/><circle cx="829.4" cy="1182.4" r="4" fill="#fff" stroke="#91cc75" stroke-width="4"/><circle cx="855.5" cy="1193.9" r="4" fill="#fff" stroke="#91cc75" stroke-width="4"/><circle cx="881.7" cy="1275.9" r="4" fill="#fff" stroke="#91cc75" stroke-width="4"/><circle cx="907.8" cy="1275.9" r="4" fill="#fff" stroke="#91cc75" stroke-width="4"/><circle cx="933.9" cy="1275.9" r="4" fill="#fff" stroke="#91cc75" stroke-width="4"/><circle cx="960.0" cy="1275.9" r="4" fill="#fff" stroke="#91cc75" stroke-width="4"/><circle cx="986.2" cy="1275.9" r="4" fill="#fff" stroke="#91cc75" stroke-width="4"/><circle cx="1012.3" cy="1275.9" r="4" fill="#fff" stroke="#91cc75" stroke-width="4"/><circle cx="1038.4" cy="1275.9" r="4" fill="#fff" stroke="#91cc75" stroke-width="4"/><circle cx="1064.6" cy="1275.9" r="4" fill="#fff" stroke="#91cc75" stroke-width="4"/><circle cx="1090.7" cy="1193.9" r="4" fill="#fff" stroke="#91cc75" stroke-width="4"/><circle cx="1116.8" cy="1193.9" r="4" fill="#fff" stroke="#91cc75" stroke-width="4"/><circle cx="1143.0" cy="1167.7" r="4" fill="#fff" stroke="#91cc75" stroke-width="4"/><circle cx="1169.1" cy="1234.9" r="4" fill="#fff" stroke="#91cc75" stroke-width="4"/><circle cx="1195.2" cy="1230.0" r="4" fill="#fff" stroke="#91cc75" stroke-width="4"/><circle cx="1221.3" cy="1203.7" r="4" fill="#fff" stroke="#91cc75" stroke-width="4"/><circle cx="1247.5" cy="1118.5" r="4" fill="#fff" stroke="#91cc75" stroke-width="4"/><circle cx="1273.6" cy="1193.9" r="4" fill="#fff" stroke="#91cc75" stroke-width="4"/><circle cx="1299.7" cy="1125.0" r="4" fill="#fff" stroke="#91cc75" stroke-width="4"/><circle cx="1325.9" cy="1144.7" r="4" fill="#fff" stroke="#91cc75" stroke-width="4"/><circle cx="1352.0" cy="1139.8" r="4" fill="#fff" stroke="#91cc75" stroke-width="4"/><circle cx="1378.1" cy="1275.9" r="4" fill="#fff" stroke="#91cc75" stroke-width="4"/><circle cx="568.1" cy="1159.5" r="4" fill="#fff" stroke="#fac858" stroke-width="4"/><circle cx="594.2" cy="1185.7" r="4" fill="#fff" stroke="#fac858" stroke-width="4"/><circle cx="620.4" cy="1193.9" r="4" fill="#fff" stroke="#fac858" stroke-width="4"/><circle cx="646.5" cy="1152.9" r="4" fill="#fff" stroke="#fac858" stroke-width="4"/><circle cx="672.6" cy="1167.7" r="4" fill="#fff" stroke="#fac858" stroke-width="4"/><circle cx="698.8" cy="1193.9" r="4" fill="#fff" stroke="#fac858" stroke-width="4"/><circle cx="724.9" cy="1167.7" r="4" fill="#fff" stroke="#fac858" stroke-width="4"/><circle cx="751.0" cy="1193.9" r="4" fill="#fff" stroke="#fac858" stroke-width="4"/><circle cx="777.1" cy="1193.9" r="4" fill="#fff" stroke="#fac858" stroke-width="4"/><circle cx="803.3" cy="1210.3" r="4" fill="#fff" stroke="#fac858" stroke-width="4"/><circle cx="829.4" cy="1182.4" r="4" fill="#fff" stroke="#fac858" stroke-width="4"/><circle cx="855.5" cy="1193.9" r="4" fill="#fff" stroke="#fac858" stroke-width="4"/><circle cx="881.7" cy="1275.9" r="4" fill="#fff" stroke="#fac858" stroke-width="4"/><circle cx="907.8" cy="1275.9" r="4" fill="#fff" stroke="#fac858" stroke-width="4"/><circle cx="933.9" cy="1275.9" r="4" fill="#fff" stroke="#fac858" stroke-width="4"/><circle cx="960.0" cy="1275.9" r="4" fill="#fff" stroke="#fac858" stroke-width="4"/><circle cx="986.2" cy="1275.9" r="4" fill="#fff" stroke="#fac858" stroke-width="4"/><circle cx="1012.3" cy="1275.9" r="4" fill="#fff" stroke="#fac858" stroke-width="4"/><circle cx="1038.4" cy="1275.9" r="4" fill="#fff" stroke="#fac858" stroke-width="4"/><circle cx="1064.6" cy="1275.9" r="4" fill="#fff" stroke="#fac858" stroke-width="4"/><circle cx="1090.7" cy="1193.9" r="4" fill="#fff" stroke="#fac858" stroke-width="4"/><circle cx="1116.8" cy="1193.9" r="4" fill="#fff" stroke="#fac858" stroke-width="4"/><circle cx="1143.0" cy="1167.7" r="4" fill="#fff" stroke="#fac858" stroke-width="4"/><circle cx="1169.1" cy="1234.9" r="4" fill="#fff" stroke="#fac858" stroke-width="4"/><circle cx="1195.2" cy="1230.0" r="4" fill="#fff" stroke="#fac858" stroke-width="4"/><circle cx="1221.3" cy="1203.7" r="4" fill="#fff" stroke="#fac858" stroke-width="4"/><circle cx="1247.5" cy="1118.5" r="4" fill="#fff" stroke="#fac858" stroke-width="4"/><circle cx="1273.6" cy="1193.9" r="4" fill="#fff" stroke="#fac858" stroke-width="4"/><circle cx="1299.7" cy="1125.0" r="4" fill="#fff" stroke="#fac858" stroke-width="4"/><circle cx="1325.9" cy="1144.7" r="4" fill="#fff" stroke="#fac858" stroke-width="4"/><circle cx="1352.0" cy="1139.8" r="4" fill="#fff" stroke="#fac858" stroke-width="4"/><circle cx="1378.1" cy="1275.9" r="4" fill="#fff" stroke="#fac858" stroke-width="4"/><circle cx="568.1" cy="1159.5" r="4" fill="#fff" stroke="#ee6666" stroke-width="4"/><circle cx="594.2" cy="1185.7" r="4" fill="#fff" stroke="#ee6666" stroke-width="4"/><circle cx="620.4" cy="1193.9" r="4" fill="#fff" stroke="#ee6666" stroke-width="4"/><circle cx="646.5" cy="1152.9" r="4" fill="#fff" stroke="#ee6666" stroke-width="4"/><circle cx="672.6" cy="1167.7" r="4" fill="#fff" stroke="#ee6666" stroke-width="4"/><circle cx="698.8" cy="1193.9" r="4" fill="#fff" stroke="#ee6666" stroke-width="4"/><circle cx="724.9" cy="1167.7" r="4" fill="#fff" stroke="#ee6666" stroke-width="4"/><circle cx="751.0" cy="1193.9" r="4" fill="#fff" stroke="#ee6666" stroke-width="4"/><circle cx="777.1" cy="1193.9" r="4" fill="#fff" stroke="#ee6666" stroke-width="4"/><circle cx="803.3" cy="1210.3" r="4" fill="#fff" stroke="#ee6666" stroke-width="4"/><circle cx="829.4" cy="1182.4" r="4" fill="#fff" stroke="#ee6666" stroke-width="4"/><circle cx="855.5" cy="1193.9" r="4" fill="#fff" stroke="#ee6666" stroke-width="4"/><circle cx="881.7" cy="1275.9" r="4" fill="#fff" stroke="#ee6666" stroke-width="4"/><circle cx="907.8" cy="1275.9" r="4" fill="#fff" stroke="#ee6666" stroke-width="4"/><circle cx="933.9" cy="1275.9" r="4" fill="#fff" stroke="#ee6666" stroke-width="4"/><circle cx="960.0" cy="1275.9" r="4" fill="#fff" stroke="#ee6666" stroke-width="4"/><circle cx="986.2" cy="1275.9" r="4" fill="#fff" stroke="#ee6666" stroke-width="4"/><circle cx="1012.3" cy="1275.9" r="4" fill="#fff" stroke="#ee6666" stroke-width="4"/><circle cx="1038.4" cy="1275.9" r="4" fill="#fff" stroke="#ee6666" stroke-width="4"/><circle cx="1064.6" cy="1275.9" r="4" fill="#fff" stroke="#ee6666" stroke-width="4"/><circle cx="1090.7" cy="1193.9" r="4" fill="#fff" stroke="#ee6666" stroke-width="4"/><circle cx="1116.8" cy="1193.9" r="4" fill="#fff" stroke="#ee6666" stroke-width="4"/><circle cx="1143.0" cy="1167.7" r="4" fill="#fff" stroke="#ee6666" stroke-width="4"/><circle cx="1169.1" cy="1234.9" r="4" fill="#fff" stroke="#ee6666" stroke-width="4"/><circle cx="1195.2" cy="1230.0" r="4" fill="#fff" stroke="#ee6666" stroke-width="4"/><circle cx="1221.3" cy="1203.7" r="4" fill="#fff" stroke="#ee6666" stroke-width="4"/><circle cx="1247.5" cy="1118.5" r="4" fill="#fff" stroke="#ee6666" stroke-width="4"/><circle cx="1273.6" cy="1193.9" r="4" fill="#fff" stroke="#ee6666" stroke-width="4"/><circle cx="1299.7" cy="1125.0" r="4" fill="#fff" stroke="#ee6666" stroke-width="4"/><circle cx="1325.9" cy="1144.7" r="4" fill="#fff" stroke="#ee6666" stroke-width="4"/><circle cx="1352.0" cy="1139.8" r="4" fill="#fff" stroke="#ee6666" stroke-width="4"/><circle cx="1378.1" cy="1275.9" r="4" fill="#fff" stroke="#ee6666" stroke-width="4"/><circle cx="547.1" cy="1057" r="11" fill="#fff" stroke="#5470c6" stroke-width="4"/><text x="582.5" y="1065.4" fill="#f4f4f4">POST /query/historic...</text><circle cx="868.8" cy="1057" r="11" fill="#fff" stroke="#91cc75" stroke-width="4"/><text x="904.0" y="1065.4" fill="#f4f4f4">POST /dash/organizat...</text><circle cx="1204.4" cy="1057" r="11" fill="#fff" stroke="#fac858" stroke-width="4"/><clipPath id="c1240"><rect x="1238.0" y="1030" width="21.5" height="50"/></clipPath><text x="1240.0" y="1065.4" fill="#f4f4f4" clip-path="url(#c1240)">POST /dash</text><path d="M1280.0 1057 L1298.0 1042 L1298.0 1072 Z" fill="#fff"/><text x="1312.0" y="1065.4" fill="#f4f4f4">1/20</text><path d="M1390.0 1057 L1372.0 1042 L1372.0 1072 Z" fill="#fff"/><rect x="574.5" y="1357.0" width="807.5" height="38.0" fill="#383d4e" stroke="#d3dcf2" stroke-width="2"/><polygon points="575.5,1370.6 601.5,1374.4 627.5,1375.5 653.5,1369.7 679.4,1371.8 705.4,1375.5 731.4,1371.8 757.4,1375.5 783.4,1375.5 809.4,1377.9 835.3,1373.9 861.3,1375.5 887.3,1387.2 913.3,1387.2 939.3,1387.2 965.3,1387.2 991.2,1387.2 1017.2,1387.2 1043.2,1387.2 1069.2,1387.2 1095.2,1375.5 1121.2,1375.5 1147.1,1371.8 1173.1,1381.4 1199.1,1380.7 1225.1,1376.9 1251.1,1364.8 1277.1,1375.5 1303.0,1365.7 1329.0,1368.5 1355.0,1367.8 1381.0,1387.2 1381.0,1394.0 575.5,1394.0" fill="#49536f"/><polyline points="575.5,1370.6 601.5,1374.4 627.5,1375.5 653.5,1369.7 679.4,1371.8 705.4,1375.5 731.4,1371.8 757.4,1375.5 783.4,1375.5 809.4,1377.9 835.3,1373.9 861.3,1375.5 887.3,1387.2 913.3,1387.2 939.3,1387.2 965.3,1387.2 991.2,1387.2 1017.2,1387.2 1043.2,1387.2 1069.2,1387.2 1095.2,1375.5 1121.2,1375.5 1147.1,1371.8 1173.1,1381.4 1199.1,1380.7 1225.1,1376.9 1251.1,1364.8 1277.1,1375.5 1303.0,1365.7 1329.0,1368.5 1355.0,1367.8 1381.0,1387.2" fill="none" stroke="#7b9de6" stroke-width="1.2"/><rect x="574.0" y="1356.0" width="3" height="40.0" fill="#b6c2de"/><rect x="571.5" y="1363.5" width="8" height="25" rx="2" fill="#fff" stroke="#b6c2de" stroke-width="2"/><rect x="1379.5" y="1356.0" width="3" height="40.0" fill="#b6c2de"/><rect x="1377.0" y="1363.5" width="8" height="25" rx="2" fill="#fff" stroke="#b6c2de" stroke-width="2"/></svg>
<div class="b" style="left:1480px;top:910px;width:982px;height:540px;box-sizing:border-box;background:#222222;border:2px solid #4b4b4b;border-radius:8px"></div>
<div class="t" style="left:1513.0px;top:944.9px;font-size:32px;line-height:32px;color:#ffffff;letter-spacing:0.07px;-webkit-text-stroke:1.0px #ffffff;">Percent of 5XX Requests</div>
<div class="b" style="left:2389.6px;top:951.6px;width:4.8px;height:4.8px;border-radius:50%;background:#fff"></div>
<div class="b" style="left:2389.6px;top:961.6px;width:4.8px;height:4.8px;border-radius:50%;background:#fff"></div>
<div class="b" style="left:2389.6px;top:971.6px;width:4.8px;height:4.8px;border-radius:50%;background:#fff"></div>
<svg class="b" style="left:0;top:0" width="2530" height="1464" viewBox="0 0 2530 1464" font-family='"Liberation Sans", Arial, sans-serif' font-size="24"><rect x="1570.1" y="1242.1" width="810.0" height="2" fill="#3a3a3c"/><rect x="1570.1" y="1209.3" width="810.0" height="2" fill="#3a3a3c"/><rect x="1570.1" y="1176.5" width="810.0" height="2" fill="#3a3a3c"/><rect x="1570.1" y="1143.7" width="810.0" height="2" fill="#3a3a3c"/><rect x="1570.1" y="1110.9" width="810.0" height="2" fill="#3a3a3c"/><rect x="1570.1" y="1274.9" width="810.0" height="2" fill="#6e7079"/><rect x="1673.6" y="1275.9" width="2" height="10" fill="#6e7079"/><text x="1674.6" y="1332.1" text-anchor="middle" fill="#f4f4f4" font-weight="700">12:00</text><rect x="1804.3" y="1275.9" width="2" height="10" fill="#6e7079"/><text x="1805.3" y="1332.1" text-anchor="middle" fill="#f4f4f4">12:10</text><rect x="1934.9" y="1275.9" width="2" height="10" fill="#6e7079"/><text x="1935.9" y="1332.1" text-anchor="middle" fill="#f4f4f4">12:20</text><rect x="2065.6" y="1275.9" width="2" height="10" fill="#6e7079"/><text x="2066.6" y="1332.1" text-anchor="middle" fill="#f4f4f4">12:30</text><rect x="2196.2" y="1275.9" width="2" height="10" fill="#6e7079"/><text x="2197.2" y="1332.1" text-anchor="middle" fill="#f4f4f4">12:40</text><rect x="2326.9" y="1275.9" width="2" height="10" fill="#6e7079"/><text x="2327.9" y="1332.1" text-anchor="middle" fill="#f4f4f4">12:50</text><text x="1553.7" y="1284.5" text-anchor="end" fill="#f4f4f4">0</text><text x="1553.7" y="1251.7" text-anchor="end" fill="#f4f4f4">20</text><text x="1553.7" y="1218.9" text-anchor="end" fill="#f4f4f4">40</text><text x="1553.7" y="1186.1" text-anchor="end" fill="#f4f4f4">60</text><text x="1553.7" y="1153.3" text-anchor="end" fill="#f4f4f4">80</text><text x="1553.7" y="1120.5" text-anchor="end" fill="#f4f4f4">100</text><polygon points="1570.1,1252.9 1596.2,1234.9 1622.4,1234.9 1648.5,1234.9 1674.6,1234.9 1700.8,1234.9 1726.9,1234.9 1753.0,1234.9 1779.1,1234.9 1805.3,1234.9 1831.4,1234.9 1857.5,1234.9 1883.7,1275.9 1909.8,1275.9 1935.9,1275.9 1962.0,1275.9 1988.2,1275.9 2014.3,1275.9 2040.4,1275.9 2066.6,1275.9 2092.7,1214.4 2118.8,1234.9 2145.0,1234.9 2171.1,1214.4 2197.2,1218.5 2223.3,1234.9 2249.5,1257.9 2275.6,1234.9 2301.7,1271.8 2327.9,1260.3 2354.0,1275.9 2380.1,1275.9 2380.1,1275.9 1570.1,1275.9" fill="#5470c6" fill-opacity="0.7"/><polygon points="1570.1,1275.9 1596.2,1221.8 1622.4,1275.9 1648.5,1275.9 1674.6,1275.9 1700.8,1275.9 1726.9,1275.9 1753.0,1275.9 1779.1,1275.9 1805.3,1111.9 1831.4,1221.8 1857.5,1275.9 1883.7,1275.9 1909.8,1275.9 1935.9,1275.9 1962.0,1275.9 1988.2,1275.9 2014.3,1275.9 2040.4,1275.9 2066.6,1275.9 2092.7,1275.9 2118.8,1275.9 2145.0,1275.9 2171.1,1275.9 2197.2,1275.9 2223.3,1177.5 2249.5,1275.9 2275.6,1275.9 2301.7,1111.9 2327.9,1275.9 2354.0,1275.9 2380.1,1275.9 2380.1,1275.9 1570.1,1275.9" fill="#91cc75" fill-opacity="0.7"/><polygon points="1570.1,1252.9 1596.2,1234.9 1622.4,1234.9 1648.5,1234.9 1674.6,1234.9 1700.8,1234.9 1726.9,1234.9 1753.0,1234.9 1779.1,1234.9 1805.3,1234.9 1831.4,1234.9 1857.5,1234.9 1883.7,1275.9 1909.8,1275.9 1935.9,1275.9 1962.0,1275.9 1988.2,1275.9 2014.3,1275.9 2040.4,1275.9 2066.6,1275.9 2092.7,1214.4 2118.8,1234.9 2145.0,1234.9 2171.1,1214.4 2197.2,1218.5 2223.3,1234.9 2249.5,1257.9 2275.6,1234.9 2301.7,1271.8 2327.9,1260.3 2354.0,1275.9 2380.1,1275.9 2380.1,1275.9 1570.1,1275.9" fill="#fac858" fill-opacity="0.7"/><polygon points="1570.1,1252.9 1596.2,1234.9 1622.4,1234.9 1648.5,1234.9 1674.6,1234.9 1700.8,1234.9 1726.9,1234.9 1753.0,1234.9 1779.1,1234.9 1805.3,1234.9 1831.4,1234.9 1857.5,1234.9 1883.7,1275.9 1909.8,1275.9 1935.9,1275.9 1962.0,1275.9 1988.2,1275.9 2014.3,1275.9 2040.4,1275.9 2066.6,1275.9 2092.7,1214.4 2118.8,1234.9 2145.0,1234.9 2171.1,1214.4 2197.2,1218.5 2223.3,1234.9 2249.5,1257.9 2275.6,1234.9 2301.7,1271.8 2327.9,1260.3 2354.0,1275.9 2380.1,1275.9 2380.1,1275.9 1570.1,1275.9" fill="#ee6666" fill-opacity="0.7"/><polyline points="1570.1,1252.9 1596.2,1234.9 1622.4,1234.9 1648.5,1234.9 1674.6,1234.9 1700.8,1234.9 1726.9,1234.9 1753.0,1234.9 1779.1,1234.9 1805.3,1234.9 1831.4,1234.9 1857.5,1234.9 1883.7,1275.9 1909.8,1275.9 1935.9,1275.9 1962.0,1275.9 1988.2,1275.9 2014.3,1275.9 2040.4,1275.9 2066.6,1275.9 2092.7,1214.4 2118.8,1234.9 2145.0,1234.9 2171.1,1214.4 2197.2,1218.5 2223.3,1234.9 2249.5,1257.9 2275.6,1234.9 2301.7,1271.8 2327.9,1260.3 2354.0,1275.9 2380.1,1275.9" fill="none" stroke="#5470c6" stroke-width="4" stroke-linejoin="bevel"/><polyline points="1570.1,1275.9 1596.2,1221.8 1622.4,1275.9 1648.5,1275.9 1674.6,1275.9 1700.8,1275.9 1726.9,1275.9 1753.0,1275.9 1779.1,1275.9 1805.3,1111.9 1831.4,1221.8 1857.5,1275.9 1883.7,1275.9 1909.8,1275.9 1935.9,1275.9 1962.0,1275.9 1988.2,1275.9 2014.3,1275.9 2040.4,1275.9 2066.6,1275.9 2092.7,1275.9 2118.8,1275.9 2145.0,1275.9 2171.1,1275.9 2197.2,1275.9 2223.3,1177.5 2249.5,1275.9 2275.6,1275.9 2301.7,1111.9 2327.9,1275.9 2354.0,1275.9 2380.1,1275.9" fill="none" stroke="#91cc75" stroke-width="4" stroke-linejoin="bevel"/><polyline points="1570.1,1252.9 1596.2,1234.9 1622.4,1234.9 1648.5,1234.9 1674.6,1234.9 1700.8,1234.9 1726.9,1234.9 1753.0,1234.9 1779.1,1234.9 1805.3,1234.9 1831.4,1234.9 1857.5,1234.9 1883.7,1275.9 1909.8,1275.9 1935.9,1275.9 1962.0,1275.9 1988.2,1275.9 2014.3,1275.9 2040.4,1275.9 2066.6,1275.9 2092.7,1214.4 2118.8,1234.9 2145.0,1234.9 2171.1,1214.4 2197.2,1218.5 2223.3,1234.9 2249.5,1257.9 2275.6,1234.9 2301.7,1271.8 2327.9,1260.3 2354.0,1275.9 2380.1,1275.9" fill="none" stroke="#fac858" stroke-width="4" stroke-linejoin="bevel"/><polyline points="1570.1,1252.9 1596.2,1234.9 1622.4,1234.9 1648.5,1234.9 1674.6,1234.9 1700.8,1234.9 1726.9,1234.9 1753.0,1234.9 1779.1,1234.9 1805.3,1234.9 1831.4,1234.9 1857.5,1234.9 1883.7,1275.9 1909.8,1275.9 1935.9,1275.9 1962.0,1275.9 1988.2,1275.9 2014.3,1275.9 2040.4,1275.9 2066.6,1275.9 2092.7,1214.4 2118.8,1234.9 2145.0,1234.9 2171.1,1214.4 2197.2,1218.5 2223.3,1234.9 2249.5,1257.9 2275.6,1234.9 2301.7,1271.8 2327.9,1260.3 2354.0,1275.9 2380.1,1275.9" fill="none" stroke="#ee6666" stroke-width="4" stroke-linejoin="bevel"/><circle cx="1570.1" cy="1252.9" r="4" fill="#fff" stroke="#5470c6" stroke-width="4"/><circle cx="1596.2" cy="1234.9" r="4" fill="#fff" stroke="#5470c6" stroke-width="4"/><circle cx="1622.4" cy="1234.9" r="4" fill="#fff" stroke="#5470c6" stroke-width="4"/><circle cx="1648.5" cy="1234.9" r="4" fill="#fff" stroke="#5470c6" stroke-width="4"/><circle cx="1674.6" cy="1234.9" r="4" fill="#fff" stroke="#5470c6" stroke-width="4"/><circle cx="1700.8" cy="1234.9" r="4" fill="#fff" stroke="#5470c6" stroke-width="4"/><circle cx="1726.9" cy="1234.9" r="4" fill="#fff" stroke="#5470c6" stroke-width="4"/><circle cx="1753.0" cy="1234.9" r="4" fill="#fff" stroke="#5470c6" stroke-width="4"/><circle cx="1779.1" cy="1234.9" r="4" fill="#fff" stroke="#5470c6" stroke-width="4"/><circle cx="1805.3" cy="1234.9" r="4" fill="#fff" stroke="#5470c6" stroke-width="4"/><circle cx="1831.4" cy="1234.9" r="4" fill="#fff" stroke="#5470c6" stroke-width="4"/><circle cx="1857.5" cy="1234.9" r="4" fill="#fff" stroke="#5470c6" stroke-width="4"/><circle cx="1883.7" cy="1275.9" r="4" fill="#fff" stroke="#5470c6" stroke-width="4"/><circle cx="1909.8" cy="1275.9" r="4" fill="#fff" stroke="#5470c6" stroke-width="4"/><circle cx="1935.9" cy="1275.9" r="4" fill="#fff" stroke="#5470c6" stroke-width="4"/><circle cx="1962.0" cy="1275.9" r="4" fill="#fff" stroke="#5470c6" stroke-width="4"/><circle cx="1988.2" cy="1275.9" r="4" fill="#fff" stroke="#5470c6" stroke-width="4"/><circle cx="2014.3" cy="1275.9" r="4" fill="#fff" stroke="#5470c6" stroke-width="4"/><circle cx="2040.4" cy="1275.9" r="4" fill="#fff" stroke="#5470c6" stroke-width="4"/><circle cx="2066.6" cy="1275.9" r="4" fill="#fff" stroke="#5470c6" stroke-width="4"/><circle cx="2092.7" cy="1214.4" r="4" fill="#fff" stroke="#5470c6" stroke-width="4"/><circle cx="2118.8" cy="1234.9" r="4" fill="#fff" stroke="#5470c6" stroke-width="4"/><circle cx="2145.0" cy="1234.9" r="4" fill="#fff" stroke="#5470c6" stroke-width="4"/><circle cx="2171.1" cy="1214.4" r="4" fill="#fff" stroke="#5470c6" stroke-width="4"/><circle cx="2197.2" cy="1218.5" r="4" fill="#fff" stroke="#5470c6" stroke-width="4"/><circle cx="2223.3" cy="1234.9" r="4" fill="#fff" stroke="#5470c6" stroke-width="4"/><circle cx="2249.5" cy="1257.9" r="4" fill="#fff" stroke="#5470c6" stroke-width="4"/><circle cx="2275.6" cy="1234.9" r="4" fill="#fff" stroke="#5470c6" stroke-width="4"/><circle cx="2301.7" cy="1271.8" r="4" fill="#fff" stroke="#5470c6" stroke-width="4"/><circle cx="2327.9" cy="1260.3" r="4" fill="#fff" stroke="#5470c6" stroke-width="4"/><circle cx="2354.0" cy="1275.9" r="4" fill="#fff" stroke="#5470c6" stroke-width="4"/><circle cx="2380.1" cy="1275.9" r="4" fill="#fff" stroke="#5470c6" stroke-width="4"/><circle cx="1570.1" cy="1275.9" r="4" fill="#fff" stroke="#91cc75" stroke-width="4"/><circle cx="1596.2" cy="1221.8" r="4" fill="#fff" stroke="#91cc75" stroke-width="4"/><circle cx="1622.4" cy="1275.9" r="4" fill="#fff" stroke="#91cc75" stroke-width="4"/><circle cx="1648.5" cy="1275.9" r="4" fill="#fff" stroke="#91cc75" stroke-width="4"/><circle cx="1674.6" cy="1275.9" r="4" fill="#fff" stroke="#91cc75" stroke-width="4"/><circle cx="1700.8" cy="1275.9" r="4" fill="#fff" stroke="#91cc75" stroke-width="4"/><circle cx="1726.9" cy="1275.9" r="4" fill="#fff" stroke="#91cc75" stroke-width="4"/><circle cx="1753.0" cy="1275.9" r="4" fill="#fff" stroke="#91cc75" stroke-width="4"/><circle cx="1779.1" cy="1275.9" r="4" fill="#fff" stroke="#91cc75" stroke-width="4"/><circle cx="1805.3" cy="1111.9" r="4" fill="#fff" stroke="#91cc75" stroke-width="4"/><circle cx="1831.4" cy="1221.8" r="4" fill="#fff" stroke="#91cc75" stroke-width="4"/><circle cx="1857.5" cy="1275.9" r="4" fill="#fff" stroke="#91cc75" stroke-width="4"/><circle cx="1883.7" cy="1275.9" r="4" fill="#fff" stroke="#91cc75" stroke-width="4"/><circle cx="1909.8" cy="1275.9" r="4" fill="#fff" stroke="#91cc75" stroke-width="4"/><circle cx="1935.9" cy="1275.9" r="4" fill="#fff" stroke="#91cc75" stroke-width="4"/><circle cx="1962.0" cy="1275.9" r="4" fill="#fff" stroke="#91cc75" stroke-width="4"/><circle cx="1988.2" cy="1275.9" r="4" fill="#fff" stroke="#91cc75" stroke-width="4"/><circle cx="2014.3" cy="1275.9" r="4" fill="#fff" stroke="#91cc75" stroke-width="4"/><circle cx="2040.4" cy="1275.9" r="4" fill="#fff" stroke="#91cc75" stroke-width="4"/><circle cx="2066.6" cy="1275.9" r="4" fill="#fff" stroke="#91cc75" stroke-width="4"/><circle cx="2092.7" cy="1275.9" r="4" fill="#fff" stroke="#91cc75" stroke-width="4"/><circle cx="2118.8" cy="1275.9" r="4" fill="#fff" stroke="#91cc75" stroke-width="4"/><circle cx="2145.0" cy="1275.9" r="4" fill="#fff" stroke="#91cc75" stroke-width="4"/><circle cx="2171.1" cy="1275.9" r="4" fill="#fff" stroke="#91cc75" stroke-width="4"/><circle cx="2197.2" cy="1275.9" r="4" fill="#fff" stroke="#91cc75" stroke-width="4"/><circle cx="2223.3" cy="1177.5" r="4" fill="#fff" stroke="#91cc75" stroke-width="4"/><circle cx="2249.5" cy="1275.9" r="4" fill="#fff" stroke="#91cc75" stroke-width="4"/><circle cx="2275.6" cy="1275.9" r="4" fill="#fff" stroke="#91cc75" stroke-width="4"/><circle cx="2301.7" cy="1111.9" r="4" fill="#fff" stroke="#91cc75" stroke-width="4"/><circle cx="2327.9" cy="1275.9" r="4" fill="#fff" stroke="#91cc75" stroke-width="4"/><circle cx="2354.0" cy="1275.9" r="4" fill="#fff" stroke="#91cc75" stroke-width="4"/><circle cx="2380.1" cy="1275.9" r="4" fill="#fff" stroke="#91cc75" stroke-width="4"/><circle cx="1570.1" cy="1252.9" r="4" fill="#fff" stroke="#fac858" stroke-width="4"/><circle cx="1596.2" cy="1234.9" r="4" fill="#fff" stroke="#fac858" stroke-width="4"/><circle cx="1622.4" cy="1234.9" r="4" fill="#fff" stroke="#fac858" stroke-width="4"/><circle cx="1648.5" cy="1234.9" r="4" fill="#fff" stroke="#fac858" stroke-width="4"/><circle cx="1674.6" cy="1234.9" r="4" fill="#fff" stroke="#fac858" stroke-width="4"/><circle cx="1700.8" cy="1234.9" r="4" fill="#fff" stroke="#fac858" stroke-width="4"/><circle cx="1726.9" cy="1234.9" r="4" fill="#fff" stroke="#fac858" stroke-width="4"/><circle cx="1753.0" cy="1234.9" r="4" fill="#fff" stroke="#fac858" stroke-width="4"/><circle cx="1779.1" cy="1234.9" r="4" fill="#fff" stroke="#fac858" stroke-width="4"/><circle cx="1805.3" cy="1234.9" r="4" fill="#fff" stroke="#fac858" stroke-width="4"/><circle cx="1831.4" cy="1234.9" r="4" fill="#fff" stroke="#fac858" stroke-width="4"/><circle cx="1857.5" cy="1234.9" r="4" fill="#fff" stroke="#fac858" stroke-width="4"/><circle cx="1883.7" cy="1275.9" r="4" fill="#fff" stroke="#fac858" stroke-width="4"/><circle cx="1909.8" cy="1275.9" r="4" fill="#fff" stroke="#fac858" stroke-width="4"/><circle cx="1935.9" cy="1275.9" r="4" fill="#fff" stroke="#fac858" stroke-width="4"/><circle cx="1962.0" cy="1275.9" r="4" fill="#fff" stroke="#fac858" stroke-width="4"/><circle cx="1988.2" cy="1275.9" r="4" fill="#fff" stroke="#fac858" stroke-width="4"/><circle cx="2014.3" cy="1275.9" r="4" fill="#fff" stroke="#fac858" stroke-width="4"/><circle cx="2040.4" cy="1275.9" r="4" fill="#fff" stroke="#fac858" stroke-width="4"/><circle cx="2066.6" cy="1275.9" r="4" fill="#fff" stroke="#fac858" stroke-width="4"/><circle cx="2092.7" cy="1214.4" r="4" fill="#fff" stroke="#fac858" stroke-width="4"/><circle cx="2118.8" cy="1234.9" r="4" fill="#fff" stroke="#fac858" stroke-width="4"/><circle cx="2145.0" cy="1234.9" r="4" fill="#fff" stroke="#fac858" stroke-width="4"/><circle cx="2171.1" cy="1214.4" r="4" fill="#fff" stroke="#fac858" stroke-width="4"/><circle cx="2197.2" cy="1218.5" r="4" fill="#fff" stroke="#fac858" stroke-width="4"/><circle cx="2223.3" cy="1234.9" r="4" fill="#fff" stroke="#fac858" stroke-width="4"/><circle cx="2249.5" cy="1257.9" r="4" fill="#fff" stroke="#fac858" stroke-width="4"/><circle cx="2275.6" cy="1234.9" r="4" fill="#fff" stroke="#fac858" stroke-width="4"/><circle cx="2301.7" cy="1271.8" r="4" fill="#fff" stroke="#fac858" stroke-width="4"/><circle cx="2327.9" cy="1260.3" r="4" fill="#fff" stroke="#fac858" stroke-width="4"/><circle cx="2354.0" cy="1275.9" r="4" fill="#fff" stroke="#fac858" stroke-width="4"/><circle cx="2380.1" cy="1275.9" r="4" fill="#fff" stroke="#fac858" stroke-width="4"/><circle cx="1570.1" cy="1252.9" r="4" fill="#fff" stroke="#ee6666" stroke-width="4"/><circle cx="1596.2" cy="1234.9" r="4" fill="#fff" stroke="#ee6666" stroke-width="4"/><circle cx="1622.4" cy="1234.9" r="4" fill="#fff" stroke="#ee6666" stroke-width="4"/><circle cx="1648.5" cy="1234.9" r="4" fill="#fff" stroke="#ee6666" stroke-width="4"/><circle cx="1674.6" cy="1234.9" r="4" fill="#fff" stroke="#ee6666" stroke-width="4"/><circle cx="1700.8" cy="1234.9" r="4" fill="#fff" stroke="#ee6666" stroke-width="4"/><circle cx="1726.9" cy="1234.9" r="4" fill="#fff" stroke="#ee6666" stroke-width="4"/><circle cx="1753.0" cy="1234.9" r="4" fill="#fff" stroke="#ee6666" stroke-width="4"/><circle cx="1779.1" cy="1234.9" r="4" fill="#fff" stroke="#ee6666" stroke-width="4"/><circle cx="1805.3" cy="1234.9" r="4" fill="#fff" stroke="#ee6666" stroke-width="4"/><circle cx="1831.4" cy="1234.9" r="4" fill="#fff" stroke="#ee6666" stroke-width="4"/><circle cx="1857.5" cy="1234.9" r="4" fill="#fff" stroke="#ee6666" stroke-width="4"/><circle cx="1883.7" cy="1275.9" r="4" fill="#fff" stroke="#ee6666" stroke-width="4"/><circle cx="1909.8" cy="1275.9" r="4" fill="#fff" stroke="#ee6666" stroke-width="4"/><circle cx="1935.9" cy="1275.9" r="4" fill="#fff" stroke="#ee6666" stroke-width="4"/><circle cx="1962.0" cy="1275.9" r="4" fill="#fff" stroke="#ee6666" stroke-width="4"/><circle cx="1988.2" cy="1275.9" r="4" fill="#fff" stroke="#ee6666" stroke-width="4"/><circle cx="2014.3" cy="1275.9" r="4" fill="#fff" stroke="#ee6666" stroke-width="4"/><circle cx="2040.4" cy="1275.9" r="4" fill="#fff" stroke="#ee6666" stroke-width="4"/><circle cx="2066.6" cy="1275.9" r="4" fill="#fff" stroke="#ee6666" stroke-width="4"/><circle cx="2092.7" cy="1214.4" r="4" fill="#fff" stroke="#ee6666" stroke-width="4"/><circle cx="2118.8" cy="1234.9" r="4" fill="#fff" stroke="#ee6666" stroke-width="4"/><circle cx="2145.0" cy="1234.9" r="4" fill="#fff" stroke="#ee6666" stroke-width="4"/><circle cx="2171.1" cy="1214.4" r="4" fill="#fff" stroke="#ee6666" stroke-width="4"/><circle cx="2197.2" cy="1218.5" r="4" fill="#fff" stroke="#ee6666" stroke-width="4"/><circle cx="2223.3" cy="1234.9" r="4" fill="#fff" stroke="#ee6666" stroke-width="4"/><circle cx="2249.5" cy="1257.9" r="4" fill="#fff" stroke="#ee6666" stroke-width="4"/><circle cx="2275.6" cy="1234.9" r="4" fill="#fff" stroke="#ee6666" stroke-width="4"/><circle cx="2301.7" cy="1271.8" r="4" fill="#fff" stroke="#ee6666" stroke-width="4"/><circle cx="2327.9" cy="1260.3" r="4" fill="#fff" stroke="#ee6666" stroke-width="4"/><circle cx="2354.0" cy="1275.9" r="4" fill="#fff" stroke="#ee6666" stroke-width="4"/><circle cx="2380.1" cy="1275.9" r="4" fill="#fff" stroke="#ee6666" stroke-width="4"/><circle cx="1549.1" cy="1057" r="11" fill="#fff" stroke="#5470c6" stroke-width="4"/><text x="1585.0" y="1065.4" fill="#f4f4f4">POST /dash/organizat...</text><circle cx="1885.2" cy="1057" r="11" fill="#fff" stroke="#91cc75" stroke-width="4"/><text x="1920.5" y="1065.4" fill="#f4f4f4">GET /v1</text><circle cx="2053.0" cy="1057" r="11" fill="#fff" stroke="#fac858" stroke-width="4"/><clipPath id="c2088"><rect x="2086.5" y="1030" width="176.5" height="50"/></clipPath><text x="2088.5" y="1065.4" fill="#f4f4f4" clip-path="url(#c2088)">POST /dash/organizat...</text><path d="M2282.0 1057 L2300.0 1042 L2300.0 1072 Z" fill="#fff"/><text x="2321.5" y="1065.4" fill="#f4f4f4">1/2</text><path d="M2392.0 1057 L2374.0 1042 L2374.0 1072 Z" fill="#fff"/><rect x="1576.5" y="1357.0" width="807.5" height="38.0" fill="#383d4e" stroke="#d3dcf2" stroke-width="2"/><polygon points="1577.5,1378.8 1603.5,1372.2 1629.5,1372.2 1655.5,1372.2 1681.4,1372.2 1707.4,1372.2 1733.4,1372.2 1759.4,1372.2 1785.4,1372.2 1811.4,1372.2 1837.3,1372.2 1863.3,1372.2 1889.3,1387.2 1915.3,1387.2 1941.3,1387.2 1967.3,1387.2 1993.2,1387.2 2019.2,1387.2 2045.2,1387.2 2071.2,1387.2 2097.2,1364.8 2123.2,1372.2 2149.1,1372.2 2175.1,1364.8 2201.1,1366.2 2227.1,1372.2 2253.1,1380.7 2279.1,1372.2 2305.0,1385.8 2331.0,1381.5 2357.0,1387.2 2383.0,1387.2 2383.0,1394.0 1577.5,1394.0" fill="#49536f"/><polyline points="1577.5,1378.8 1603.5,1372.2 1629.5,1372.2 1655.5,1372.2 1681.4,1372.2 1707.4,1372.2 1733.4,1372.2 1759.4,1372.2 1785.4,1372.2 1811.4,1372.2 1837.3,1372.2 1863.3,1372.2 1889.3,1387.2 1915.3,1387.2 1941.3,1387.2 1967.3,1387.2 1993.2,1387.2 2019.2,1387.2 2045.2,1387.2 2071.2,1387.2 2097.2,1364.8 2123.2,1372.2 2149.1,1372.2 2175.1,1364.8 2201.1,1366.2 2227.1,1372.2 2253.1,1380.7 2279.1,1372.2 2305.0,1385.8 2331.0,1381.5 2357.0,1387.2 2383.0,1387.2" fill="none" stroke="#7b9de6" stroke-width="1.2"/><rect x="1576.0" y="1356.0" width="3" height="40.0" fill="#b6c2de"/><rect x="1573.5" y="1363.5" width="8" height="25" rx="2" fill="#fff" stroke="#b6c2de" stroke-width="2"/><rect x="2381.5" y="1356.0" width="3" height="40.0" fill="#b6c2de"/><rect x="2379.0" y="1363.5" width="8" height="25" rx="2" fill="#fff" stroke="#b6c2de" stroke-width="2"/></svg>
</div>
</body></html>
